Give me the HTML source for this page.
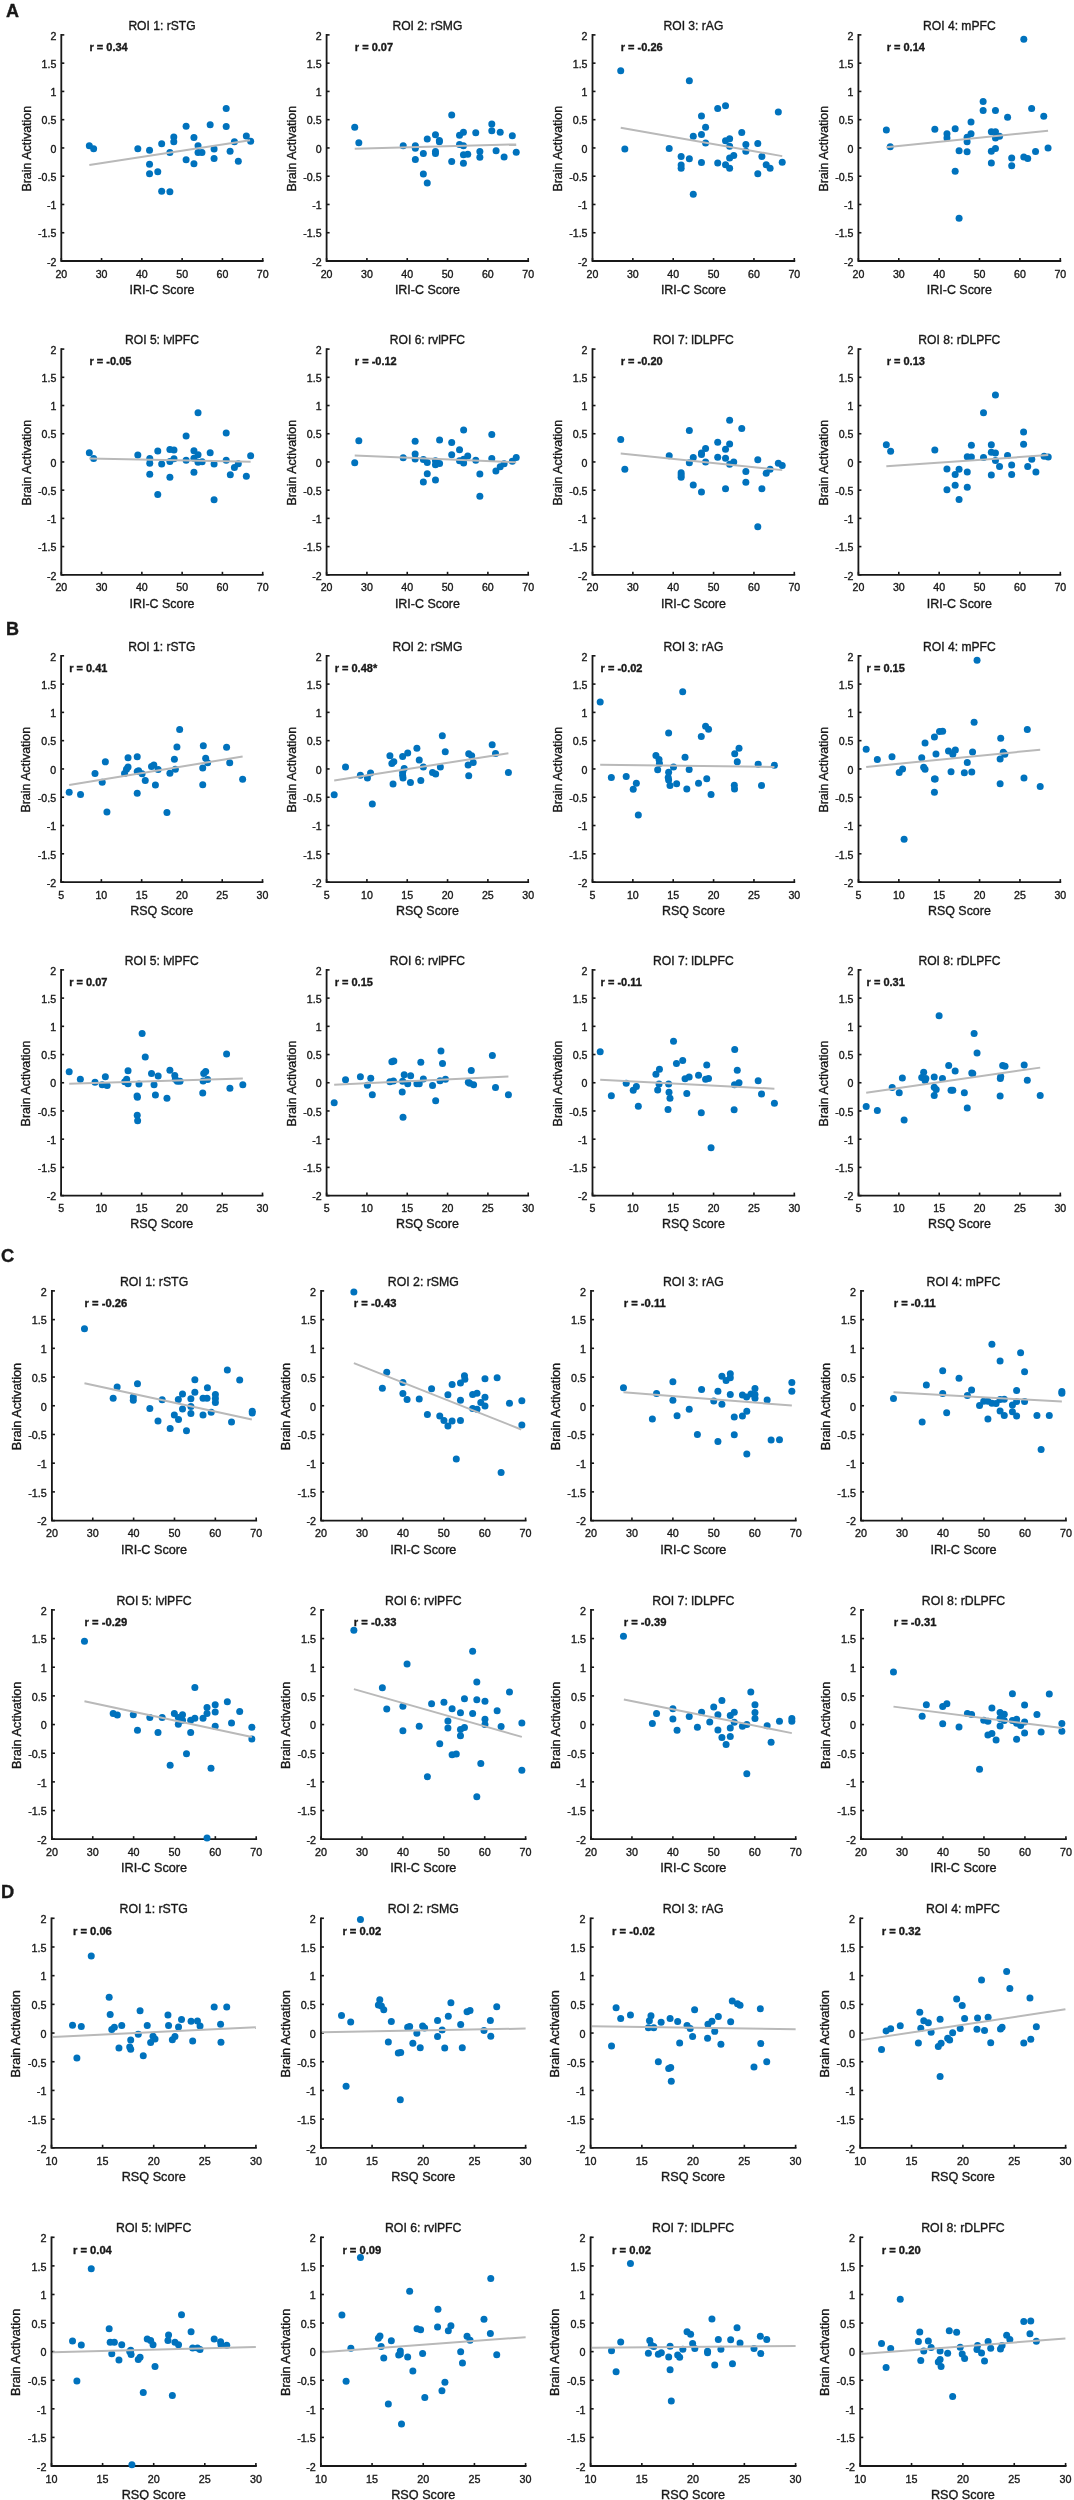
<!DOCTYPE html>
<html><head><meta charset="utf-8"><style>
html,body{margin:0;padding:0;background:#fff;}
svg{display:block;will-change:transform;}
text{font-family:"Liberation Sans",sans-serif;fill:#181818;stroke:#181818;stroke-width:0.35px;}
circle{fill:#0072bd;}
</style></head><body>
<svg width="1074" height="2500" viewBox="0 0 1074 2500">
<rect width="1074" height="2500" fill="#fff"/>
<text x="5.9" y="17.0" font-size="18.00" font-weight="bold" fill="#000">A</text>
<g><text x="162.00" y="29.80" font-size="12.10" text-anchor="middle">ROI 1: rSTG</text><text x="56.30" y="39.60" font-size="10.60" text-anchor="end">2</text><line x1="61.30" y1="34.90" x2="64.30" y2="34.90" stroke="#181818" stroke-width="1.6"/><text x="56.30" y="67.86" font-size="10.60" text-anchor="end">1.5</text><line x1="61.30" y1="63.16" x2="64.30" y2="63.16" stroke="#181818" stroke-width="1.6"/><text x="56.30" y="96.12" font-size="10.60" text-anchor="end">1</text><line x1="61.30" y1="91.42" x2="64.30" y2="91.42" stroke="#181818" stroke-width="1.6"/><text x="56.30" y="124.39" font-size="10.60" text-anchor="end">0.5</text><line x1="61.30" y1="119.69" x2="64.30" y2="119.69" stroke="#181818" stroke-width="1.6"/><text x="56.30" y="152.65" font-size="10.60" text-anchor="end">0</text><line x1="61.30" y1="147.95" x2="64.30" y2="147.95" stroke="#181818" stroke-width="1.6"/><text x="56.30" y="180.91" font-size="10.60" text-anchor="end">-0.5</text><line x1="61.30" y1="176.21" x2="64.30" y2="176.21" stroke="#181818" stroke-width="1.6"/><text x="56.30" y="209.17" font-size="10.60" text-anchor="end">-1</text><line x1="61.30" y1="204.47" x2="64.30" y2="204.47" stroke="#181818" stroke-width="1.6"/><text x="56.30" y="237.44" font-size="10.60" text-anchor="end">-1.5</text><line x1="61.30" y1="232.74" x2="64.30" y2="232.74" stroke="#181818" stroke-width="1.6"/><text x="56.30" y="265.70" font-size="10.60" text-anchor="end">-2</text><line x1="61.30" y1="261.00" x2="64.30" y2="261.00" stroke="#181818" stroke-width="1.6"/><text x="61.30" y="277.50" font-size="10.60" text-anchor="middle">20</text><line x1="61.30" y1="261.00" x2="61.30" y2="258.00" stroke="#181818" stroke-width="1.6"/><text x="101.58" y="277.50" font-size="10.60" text-anchor="middle">30</text><line x1="101.58" y1="261.00" x2="101.58" y2="258.00" stroke="#181818" stroke-width="1.6"/><text x="141.86" y="277.50" font-size="10.60" text-anchor="middle">40</text><line x1="141.86" y1="261.00" x2="141.86" y2="258.00" stroke="#181818" stroke-width="1.6"/><text x="182.14" y="277.50" font-size="10.60" text-anchor="middle">50</text><line x1="182.14" y1="261.00" x2="182.14" y2="258.00" stroke="#181818" stroke-width="1.6"/><text x="222.42" y="277.50" font-size="10.60" text-anchor="middle">60</text><line x1="222.42" y1="261.00" x2="222.42" y2="258.00" stroke="#181818" stroke-width="1.6"/><text x="262.70" y="277.50" font-size="10.60" text-anchor="middle">70</text><line x1="262.70" y1="261.00" x2="262.70" y2="258.00" stroke="#181818" stroke-width="1.6"/><path d="M61.30 34.90V261.00H262.70" fill="none" stroke="#181818" stroke-width="1.80" stroke-linejoin="miter" stroke-linecap="square"/><text x="162.00" y="293.70" font-size="12.45" text-anchor="middle">IRI-C Score</text><text transform="translate(30.60 148.75) rotate(-90)" x="0" y="0" font-size="12.45" text-anchor="middle">Brain Activation</text><text x="89.50" y="51.00" font-size="11.00" font-weight="bold">r = 0.34</text><circle cx="89.33" cy="145.73" r="3.5"/><circle cx="93.63" cy="148.66" r="3.5"/><circle cx="137.82" cy="148.66" r="3.5"/><circle cx="149.55" cy="150.22" r="3.5"/><circle cx="149.55" cy="164.30" r="3.5"/><circle cx="149.55" cy="173.69" r="3.5"/><circle cx="157.77" cy="171.73" r="3.5"/><circle cx="161.68" cy="143.77" r="3.5"/><circle cx="161.68" cy="191.28" r="3.5"/><circle cx="169.89" cy="152.57" r="3.5"/><circle cx="169.89" cy="191.68" r="3.5"/><circle cx="173.80" cy="136.93" r="3.5"/><circle cx="173.80" cy="141.82" r="3.5"/><circle cx="186.12" cy="126.17" r="3.5"/><circle cx="186.12" cy="159.80" r="3.5"/><circle cx="193.94" cy="137.51" r="3.5"/><circle cx="193.94" cy="163.72" r="3.5"/><circle cx="198.04" cy="145.73" r="3.5"/><circle cx="198.04" cy="152.57" r="3.5"/><circle cx="201.96" cy="152.57" r="3.5"/><circle cx="210.17" cy="124.80" r="3.5"/><circle cx="214.08" cy="149.05" r="3.5"/><circle cx="214.08" cy="158.44" r="3.5"/><circle cx="226.20" cy="108.58" r="3.5"/><circle cx="226.20" cy="126.56" r="3.5"/><circle cx="230.11" cy="151.20" r="3.5"/><circle cx="234.41" cy="141.82" r="3.5"/><circle cx="238.32" cy="161.17" r="3.5"/><circle cx="246.34" cy="135.95" r="3.5"/><circle cx="250.64" cy="141.23" r="3.5"/><line x1="89.33" y1="164.89" x2="250.06" y2="140.25" stroke="#b9b9b9" stroke-width="2"/></g>
<g><text x="427.40" y="29.80" font-size="12.10" text-anchor="middle">ROI 2: rSMG</text><text x="321.60" y="39.60" font-size="10.60" text-anchor="end">2</text><line x1="326.60" y1="34.90" x2="329.60" y2="34.90" stroke="#181818" stroke-width="1.6"/><text x="321.60" y="67.86" font-size="10.60" text-anchor="end">1.5</text><line x1="326.60" y1="63.16" x2="329.60" y2="63.16" stroke="#181818" stroke-width="1.6"/><text x="321.60" y="96.12" font-size="10.60" text-anchor="end">1</text><line x1="326.60" y1="91.42" x2="329.60" y2="91.42" stroke="#181818" stroke-width="1.6"/><text x="321.60" y="124.39" font-size="10.60" text-anchor="end">0.5</text><line x1="326.60" y1="119.69" x2="329.60" y2="119.69" stroke="#181818" stroke-width="1.6"/><text x="321.60" y="152.65" font-size="10.60" text-anchor="end">0</text><line x1="326.60" y1="147.95" x2="329.60" y2="147.95" stroke="#181818" stroke-width="1.6"/><text x="321.60" y="180.91" font-size="10.60" text-anchor="end">-0.5</text><line x1="326.60" y1="176.21" x2="329.60" y2="176.21" stroke="#181818" stroke-width="1.6"/><text x="321.60" y="209.17" font-size="10.60" text-anchor="end">-1</text><line x1="326.60" y1="204.47" x2="329.60" y2="204.47" stroke="#181818" stroke-width="1.6"/><text x="321.60" y="237.44" font-size="10.60" text-anchor="end">-1.5</text><line x1="326.60" y1="232.74" x2="329.60" y2="232.74" stroke="#181818" stroke-width="1.6"/><text x="321.60" y="265.70" font-size="10.60" text-anchor="end">-2</text><line x1="326.60" y1="261.00" x2="329.60" y2="261.00" stroke="#181818" stroke-width="1.6"/><text x="326.60" y="277.50" font-size="10.60" text-anchor="middle">20</text><line x1="326.60" y1="261.00" x2="326.60" y2="258.00" stroke="#181818" stroke-width="1.6"/><text x="366.92" y="277.50" font-size="10.60" text-anchor="middle">30</text><line x1="366.92" y1="261.00" x2="366.92" y2="258.00" stroke="#181818" stroke-width="1.6"/><text x="407.24" y="277.50" font-size="10.60" text-anchor="middle">40</text><line x1="407.24" y1="261.00" x2="407.24" y2="258.00" stroke="#181818" stroke-width="1.6"/><text x="447.56" y="277.50" font-size="10.60" text-anchor="middle">50</text><line x1="447.56" y1="261.00" x2="447.56" y2="258.00" stroke="#181818" stroke-width="1.6"/><text x="487.88" y="277.50" font-size="10.60" text-anchor="middle">60</text><line x1="487.88" y1="261.00" x2="487.88" y2="258.00" stroke="#181818" stroke-width="1.6"/><text x="528.20" y="277.50" font-size="10.60" text-anchor="middle">70</text><line x1="528.20" y1="261.00" x2="528.20" y2="258.00" stroke="#181818" stroke-width="1.6"/><path d="M326.60 34.90V261.00H528.20" fill="none" stroke="#181818" stroke-width="1.80" stroke-linejoin="miter" stroke-linecap="square"/><text x="427.40" y="293.70" font-size="12.45" text-anchor="middle">IRI-C Score</text><text transform="translate(295.90 148.75) rotate(-90)" x="0" y="0" font-size="12.45" text-anchor="middle">Brain Activation</text><text x="354.82" y="51.00" font-size="11.00" font-weight="bold">r = 0.07</text><circle cx="354.72" cy="127.18" r="3.5"/><circle cx="358.83" cy="142.82" r="3.5"/><circle cx="403.21" cy="145.75" r="3.5"/><circle cx="415.34" cy="145.75" r="3.5"/><circle cx="415.34" cy="148.30" r="3.5"/><circle cx="415.34" cy="159.44" r="3.5"/><circle cx="423.35" cy="153.38" r="3.5"/><circle cx="423.35" cy="173.91" r="3.5"/><circle cx="427.26" cy="139.11" r="3.5"/><circle cx="427.26" cy="183.10" r="3.5"/><circle cx="435.47" cy="134.80" r="3.5"/><circle cx="435.47" cy="151.62" r="3.5"/><circle cx="435.47" cy="153.58" r="3.5"/><circle cx="439.39" cy="140.47" r="3.5"/><circle cx="439.39" cy="141.84" r="3.5"/><circle cx="451.70" cy="115.06" r="3.5"/><circle cx="451.70" cy="161.59" r="3.5"/><circle cx="459.53" cy="135.20" r="3.5"/><circle cx="459.53" cy="144.39" r="3.5"/><circle cx="463.44" cy="132.26" r="3.5"/><circle cx="463.44" cy="145.75" r="3.5"/><circle cx="463.44" cy="154.75" r="3.5"/><circle cx="463.44" cy="163.16" r="3.5"/><circle cx="467.74" cy="154.36" r="3.5"/><circle cx="475.75" cy="132.65" r="3.5"/><circle cx="479.86" cy="151.62" r="3.5"/><circle cx="479.86" cy="157.29" r="3.5"/><circle cx="491.79" cy="124.05" r="3.5"/><circle cx="491.79" cy="130.70" r="3.5"/><circle cx="496.09" cy="150.84" r="3.5"/><circle cx="500.20" cy="132.26" r="3.5"/><circle cx="504.11" cy="157.09" r="3.5"/><circle cx="512.32" cy="135.78" r="3.5"/><circle cx="516.23" cy="152.21" r="3.5"/><line x1="354.72" y1="148.69" x2="516.23" y2="144.39" stroke="#b9b9b9" stroke-width="2"/></g>
<g><text x="693.40" y="29.80" font-size="12.10" text-anchor="middle">ROI 3: rAG</text><text x="587.50" y="39.60" font-size="10.60" text-anchor="end">2</text><line x1="592.50" y1="34.90" x2="595.50" y2="34.90" stroke="#181818" stroke-width="1.6"/><text x="587.50" y="67.86" font-size="10.60" text-anchor="end">1.5</text><line x1="592.50" y1="63.16" x2="595.50" y2="63.16" stroke="#181818" stroke-width="1.6"/><text x="587.50" y="96.12" font-size="10.60" text-anchor="end">1</text><line x1="592.50" y1="91.42" x2="595.50" y2="91.42" stroke="#181818" stroke-width="1.6"/><text x="587.50" y="124.39" font-size="10.60" text-anchor="end">0.5</text><line x1="592.50" y1="119.69" x2="595.50" y2="119.69" stroke="#181818" stroke-width="1.6"/><text x="587.50" y="152.65" font-size="10.60" text-anchor="end">0</text><line x1="592.50" y1="147.95" x2="595.50" y2="147.95" stroke="#181818" stroke-width="1.6"/><text x="587.50" y="180.91" font-size="10.60" text-anchor="end">-0.5</text><line x1="592.50" y1="176.21" x2="595.50" y2="176.21" stroke="#181818" stroke-width="1.6"/><text x="587.50" y="209.17" font-size="10.60" text-anchor="end">-1</text><line x1="592.50" y1="204.47" x2="595.50" y2="204.47" stroke="#181818" stroke-width="1.6"/><text x="587.50" y="237.44" font-size="10.60" text-anchor="end">-1.5</text><line x1="592.50" y1="232.74" x2="595.50" y2="232.74" stroke="#181818" stroke-width="1.6"/><text x="587.50" y="265.70" font-size="10.60" text-anchor="end">-2</text><line x1="592.50" y1="261.00" x2="595.50" y2="261.00" stroke="#181818" stroke-width="1.6"/><text x="592.50" y="277.50" font-size="10.60" text-anchor="middle">20</text><line x1="592.50" y1="261.00" x2="592.50" y2="258.00" stroke="#181818" stroke-width="1.6"/><text x="632.86" y="277.50" font-size="10.60" text-anchor="middle">30</text><line x1="632.86" y1="261.00" x2="632.86" y2="258.00" stroke="#181818" stroke-width="1.6"/><text x="673.22" y="277.50" font-size="10.60" text-anchor="middle">40</text><line x1="673.22" y1="261.00" x2="673.22" y2="258.00" stroke="#181818" stroke-width="1.6"/><text x="713.58" y="277.50" font-size="10.60" text-anchor="middle">50</text><line x1="713.58" y1="261.00" x2="713.58" y2="258.00" stroke="#181818" stroke-width="1.6"/><text x="753.94" y="277.50" font-size="10.60" text-anchor="middle">60</text><line x1="753.94" y1="261.00" x2="753.94" y2="258.00" stroke="#181818" stroke-width="1.6"/><text x="794.30" y="277.50" font-size="10.60" text-anchor="middle">70</text><line x1="794.30" y1="261.00" x2="794.30" y2="258.00" stroke="#181818" stroke-width="1.6"/><path d="M592.50 34.90V261.00H794.30" fill="none" stroke="#181818" stroke-width="1.80" stroke-linejoin="miter" stroke-linecap="square"/><text x="693.40" y="293.70" font-size="12.45" text-anchor="middle">IRI-C Score</text><text transform="translate(561.80 148.75) rotate(-90)" x="0" y="0" font-size="12.45" text-anchor="middle">Brain Activation</text><text x="620.75" y="51.00" font-size="11.00" font-weight="bold">r = -0.26</text><circle cx="620.72" cy="70.67" r="3.5"/><circle cx="624.83" cy="149.08" r="3.5"/><circle cx="669.21" cy="148.49" r="3.5"/><circle cx="681.14" cy="156.51" r="3.5"/><circle cx="681.14" cy="164.92" r="3.5"/><circle cx="681.14" cy="168.24" r="3.5"/><circle cx="689.35" cy="80.84" r="3.5"/><circle cx="689.35" cy="158.85" r="3.5"/><circle cx="693.26" cy="136.37" r="3.5"/><circle cx="693.26" cy="194.25" r="3.5"/><circle cx="701.47" cy="116.03" r="3.5"/><circle cx="701.47" cy="134.61" r="3.5"/><circle cx="701.47" cy="162.57" r="3.5"/><circle cx="705.58" cy="127.37" r="3.5"/><circle cx="705.58" cy="143.02" r="3.5"/><circle cx="717.70" cy="108.60" r="3.5"/><circle cx="717.70" cy="162.96" r="3.5"/><circle cx="725.53" cy="105.67" r="3.5"/><circle cx="725.53" cy="140.87" r="3.5"/><circle cx="725.53" cy="164.72" r="3.5"/><circle cx="729.63" cy="138.72" r="3.5"/><circle cx="729.63" cy="146.34" r="3.5"/><circle cx="729.63" cy="158.07" r="3.5"/><circle cx="729.63" cy="168.24" r="3.5"/><circle cx="733.74" cy="155.53" r="3.5"/><circle cx="741.75" cy="132.46" r="3.5"/><circle cx="745.86" cy="144.39" r="3.5"/><circle cx="745.86" cy="151.23" r="3.5"/><circle cx="757.79" cy="143.41" r="3.5"/><circle cx="757.79" cy="173.72" r="3.5"/><circle cx="761.89" cy="156.51" r="3.5"/><circle cx="766.20" cy="164.72" r="3.5"/><circle cx="770.11" cy="168.24" r="3.5"/><circle cx="778.32" cy="112.12" r="3.5"/><circle cx="782.23" cy="162.18" r="3.5"/><line x1="620.72" y1="127.77" x2="782.23" y2="156.12" stroke="#b9b9b9" stroke-width="2"/></g>
<g><text x="959.35" y="29.80" font-size="12.10" text-anchor="middle">ROI 4: mPFC</text><text x="853.40" y="39.60" font-size="10.60" text-anchor="end">2</text><line x1="858.40" y1="34.90" x2="861.40" y2="34.90" stroke="#181818" stroke-width="1.6"/><text x="853.40" y="67.86" font-size="10.60" text-anchor="end">1.5</text><line x1="858.40" y1="63.16" x2="861.40" y2="63.16" stroke="#181818" stroke-width="1.6"/><text x="853.40" y="96.12" font-size="10.60" text-anchor="end">1</text><line x1="858.40" y1="91.42" x2="861.40" y2="91.42" stroke="#181818" stroke-width="1.6"/><text x="853.40" y="124.39" font-size="10.60" text-anchor="end">0.5</text><line x1="858.40" y1="119.69" x2="861.40" y2="119.69" stroke="#181818" stroke-width="1.6"/><text x="853.40" y="152.65" font-size="10.60" text-anchor="end">0</text><line x1="858.40" y1="147.95" x2="861.40" y2="147.95" stroke="#181818" stroke-width="1.6"/><text x="853.40" y="180.91" font-size="10.60" text-anchor="end">-0.5</text><line x1="858.40" y1="176.21" x2="861.40" y2="176.21" stroke="#181818" stroke-width="1.6"/><text x="853.40" y="209.17" font-size="10.60" text-anchor="end">-1</text><line x1="858.40" y1="204.47" x2="861.40" y2="204.47" stroke="#181818" stroke-width="1.6"/><text x="853.40" y="237.44" font-size="10.60" text-anchor="end">-1.5</text><line x1="858.40" y1="232.74" x2="861.40" y2="232.74" stroke="#181818" stroke-width="1.6"/><text x="853.40" y="265.70" font-size="10.60" text-anchor="end">-2</text><line x1="858.40" y1="261.00" x2="861.40" y2="261.00" stroke="#181818" stroke-width="1.6"/><text x="858.40" y="277.50" font-size="10.60" text-anchor="middle">20</text><line x1="858.40" y1="261.00" x2="858.40" y2="258.00" stroke="#181818" stroke-width="1.6"/><text x="898.78" y="277.50" font-size="10.60" text-anchor="middle">30</text><line x1="898.78" y1="261.00" x2="898.78" y2="258.00" stroke="#181818" stroke-width="1.6"/><text x="939.16" y="277.50" font-size="10.60" text-anchor="middle">40</text><line x1="939.16" y1="261.00" x2="939.16" y2="258.00" stroke="#181818" stroke-width="1.6"/><text x="979.54" y="277.50" font-size="10.60" text-anchor="middle">50</text><line x1="979.54" y1="261.00" x2="979.54" y2="258.00" stroke="#181818" stroke-width="1.6"/><text x="1019.92" y="277.50" font-size="10.60" text-anchor="middle">60</text><line x1="1019.92" y1="261.00" x2="1019.92" y2="258.00" stroke="#181818" stroke-width="1.6"/><text x="1060.30" y="277.50" font-size="10.60" text-anchor="middle">70</text><line x1="1060.30" y1="261.00" x2="1060.30" y2="258.00" stroke="#181818" stroke-width="1.6"/><path d="M858.40 34.90V261.00H1060.30" fill="none" stroke="#181818" stroke-width="1.80" stroke-linejoin="miter" stroke-linecap="square"/><text x="959.35" y="293.70" font-size="12.45" text-anchor="middle">IRI-C Score</text><text transform="translate(827.70 148.75) rotate(-90)" x="0" y="0" font-size="12.45" text-anchor="middle">Brain Activation</text><text x="886.67" y="51.00" font-size="11.00" font-weight="bold">r = 0.14</text><circle cx="886.35" cy="130.11" r="3.5"/><circle cx="890.26" cy="146.73" r="3.5"/><circle cx="934.84" cy="129.33" r="3.5"/><circle cx="946.97" cy="133.63" r="3.5"/><circle cx="946.97" cy="137.93" r="3.5"/><circle cx="955.18" cy="128.74" r="3.5"/><circle cx="955.18" cy="171.17" r="3.5"/><circle cx="959.09" cy="150.84" r="3.5"/><circle cx="959.09" cy="218.30" r="3.5"/><circle cx="967.11" cy="137.15" r="3.5"/><circle cx="967.11" cy="141.84" r="3.5"/><circle cx="967.11" cy="151.82" r="3.5"/><circle cx="971.02" cy="121.90" r="3.5"/><circle cx="971.02" cy="133.63" r="3.5"/><circle cx="983.14" cy="101.56" r="3.5"/><circle cx="983.14" cy="110.56" r="3.5"/><circle cx="991.35" cy="131.68" r="3.5"/><circle cx="991.35" cy="151.23" r="3.5"/><circle cx="991.35" cy="162.96" r="3.5"/><circle cx="995.46" cy="110.56" r="3.5"/><circle cx="995.46" cy="131.68" r="3.5"/><circle cx="995.46" cy="137.93" r="3.5"/><circle cx="995.46" cy="148.49" r="3.5"/><circle cx="999.56" cy="136.17" r="3.5"/><circle cx="1007.58" cy="117.21" r="3.5"/><circle cx="1011.69" cy="158.07" r="3.5"/><circle cx="1011.69" cy="165.70" r="3.5"/><circle cx="1023.81" cy="39.19" r="3.5"/><circle cx="1023.81" cy="157.09" r="3.5"/><circle cx="1027.72" cy="158.46" r="3.5"/><circle cx="1031.63" cy="108.60" r="3.5"/><circle cx="1035.54" cy="151.62" r="3.5"/><circle cx="1043.75" cy="116.23" r="3.5"/><circle cx="1048.06" cy="147.91" r="3.5"/><line x1="886.35" y1="147.32" x2="1048.06" y2="130.70" stroke="#b9b9b9" stroke-width="2"/></g>
<g><text x="162.00" y="344.00" font-size="12.10" text-anchor="middle">ROI 5: lvlPFC</text><text x="56.30" y="353.80" font-size="10.60" text-anchor="end">2</text><line x1="61.30" y1="349.10" x2="64.30" y2="349.10" stroke="#181818" stroke-width="1.6"/><text x="56.30" y="382.01" font-size="10.60" text-anchor="end">1.5</text><line x1="61.30" y1="377.31" x2="64.30" y2="377.31" stroke="#181818" stroke-width="1.6"/><text x="56.30" y="410.23" font-size="10.60" text-anchor="end">1</text><line x1="61.30" y1="405.53" x2="64.30" y2="405.53" stroke="#181818" stroke-width="1.6"/><text x="56.30" y="438.44" font-size="10.60" text-anchor="end">0.5</text><line x1="61.30" y1="433.74" x2="64.30" y2="433.74" stroke="#181818" stroke-width="1.6"/><text x="56.30" y="466.65" font-size="10.60" text-anchor="end">0</text><line x1="61.30" y1="461.95" x2="64.30" y2="461.95" stroke="#181818" stroke-width="1.6"/><text x="56.30" y="494.86" font-size="10.60" text-anchor="end">-0.5</text><line x1="61.30" y1="490.16" x2="64.30" y2="490.16" stroke="#181818" stroke-width="1.6"/><text x="56.30" y="523.08" font-size="10.60" text-anchor="end">-1</text><line x1="61.30" y1="518.38" x2="64.30" y2="518.38" stroke="#181818" stroke-width="1.6"/><text x="56.30" y="551.29" font-size="10.60" text-anchor="end">-1.5</text><line x1="61.30" y1="546.59" x2="64.30" y2="546.59" stroke="#181818" stroke-width="1.6"/><text x="56.30" y="579.50" font-size="10.60" text-anchor="end">-2</text><line x1="61.30" y1="574.80" x2="64.30" y2="574.80" stroke="#181818" stroke-width="1.6"/><text x="61.30" y="591.30" font-size="10.60" text-anchor="middle">20</text><line x1="61.30" y1="574.80" x2="61.30" y2="571.80" stroke="#181818" stroke-width="1.6"/><text x="101.58" y="591.30" font-size="10.60" text-anchor="middle">30</text><line x1="101.58" y1="574.80" x2="101.58" y2="571.80" stroke="#181818" stroke-width="1.6"/><text x="141.86" y="591.30" font-size="10.60" text-anchor="middle">40</text><line x1="141.86" y1="574.80" x2="141.86" y2="571.80" stroke="#181818" stroke-width="1.6"/><text x="182.14" y="591.30" font-size="10.60" text-anchor="middle">50</text><line x1="182.14" y1="574.80" x2="182.14" y2="571.80" stroke="#181818" stroke-width="1.6"/><text x="222.42" y="591.30" font-size="10.60" text-anchor="middle">60</text><line x1="222.42" y1="574.80" x2="222.42" y2="571.80" stroke="#181818" stroke-width="1.6"/><text x="262.70" y="591.30" font-size="10.60" text-anchor="middle">70</text><line x1="262.70" y1="574.80" x2="262.70" y2="571.80" stroke="#181818" stroke-width="1.6"/><path d="M61.30 349.10V574.80H262.70" fill="none" stroke="#181818" stroke-width="1.80" stroke-linejoin="miter" stroke-linecap="square"/><text x="162.00" y="607.50" font-size="12.45" text-anchor="middle">IRI-C Score</text><text transform="translate(30.60 462.75) rotate(-90)" x="0" y="0" font-size="12.45" text-anchor="middle">Brain Activation</text><text x="89.50" y="365.20" font-size="11.00" font-weight="bold">r = -0.05</text><circle cx="89.33" cy="452.72" r="3.5"/><circle cx="93.63" cy="458.39" r="3.5"/><circle cx="137.82" cy="455.06" r="3.5"/><circle cx="149.75" cy="458.39" r="3.5"/><circle cx="149.75" cy="463.27" r="3.5"/><circle cx="149.75" cy="474.22" r="3.5"/><circle cx="157.77" cy="450.96" r="3.5"/><circle cx="157.77" cy="494.56" r="3.5"/><circle cx="161.68" cy="464.06" r="3.5"/><circle cx="169.89" cy="449.59" r="3.5"/><circle cx="169.89" cy="461.51" r="3.5"/><circle cx="169.89" cy="477.35" r="3.5"/><circle cx="173.99" cy="449.98" r="3.5"/><circle cx="173.99" cy="458.78" r="3.5"/><circle cx="186.12" cy="436.09" r="3.5"/><circle cx="186.12" cy="460.34" r="3.5"/><circle cx="193.94" cy="450.76" r="3.5"/><circle cx="193.94" cy="458.19" r="3.5"/><circle cx="193.94" cy="472.27" r="3.5"/><circle cx="198.04" cy="412.63" r="3.5"/><circle cx="198.04" cy="454.87" r="3.5"/><circle cx="198.04" cy="462.30" r="3.5"/><circle cx="202.15" cy="461.71" r="3.5"/><circle cx="210.17" cy="452.72" r="3.5"/><circle cx="214.08" cy="464.06" r="3.5"/><circle cx="214.08" cy="499.84" r="3.5"/><circle cx="226.20" cy="432.97" r="3.5"/><circle cx="226.20" cy="460.34" r="3.5"/><circle cx="230.31" cy="474.81" r="3.5"/><circle cx="234.41" cy="467.38" r="3.5"/><circle cx="238.32" cy="463.66" r="3.5"/><circle cx="246.34" cy="476.37" r="3.5"/><circle cx="250.64" cy="455.84" r="3.5"/><line x1="89.33" y1="458.39" x2="250.64" y2="461.71" stroke="#b9b9b9" stroke-width="2"/></g>
<g><text x="427.40" y="344.00" font-size="12.10" text-anchor="middle">ROI 6: rvlPFC</text><text x="321.60" y="353.80" font-size="10.60" text-anchor="end">2</text><line x1="326.60" y1="349.10" x2="329.60" y2="349.10" stroke="#181818" stroke-width="1.6"/><text x="321.60" y="382.01" font-size="10.60" text-anchor="end">1.5</text><line x1="326.60" y1="377.31" x2="329.60" y2="377.31" stroke="#181818" stroke-width="1.6"/><text x="321.60" y="410.23" font-size="10.60" text-anchor="end">1</text><line x1="326.60" y1="405.53" x2="329.60" y2="405.53" stroke="#181818" stroke-width="1.6"/><text x="321.60" y="438.44" font-size="10.60" text-anchor="end">0.5</text><line x1="326.60" y1="433.74" x2="329.60" y2="433.74" stroke="#181818" stroke-width="1.6"/><text x="321.60" y="466.65" font-size="10.60" text-anchor="end">0</text><line x1="326.60" y1="461.95" x2="329.60" y2="461.95" stroke="#181818" stroke-width="1.6"/><text x="321.60" y="494.86" font-size="10.60" text-anchor="end">-0.5</text><line x1="326.60" y1="490.16" x2="329.60" y2="490.16" stroke="#181818" stroke-width="1.6"/><text x="321.60" y="523.08" font-size="10.60" text-anchor="end">-1</text><line x1="326.60" y1="518.38" x2="329.60" y2="518.38" stroke="#181818" stroke-width="1.6"/><text x="321.60" y="551.29" font-size="10.60" text-anchor="end">-1.5</text><line x1="326.60" y1="546.59" x2="329.60" y2="546.59" stroke="#181818" stroke-width="1.6"/><text x="321.60" y="579.50" font-size="10.60" text-anchor="end">-2</text><line x1="326.60" y1="574.80" x2="329.60" y2="574.80" stroke="#181818" stroke-width="1.6"/><text x="326.60" y="591.30" font-size="10.60" text-anchor="middle">20</text><line x1="326.60" y1="574.80" x2="326.60" y2="571.80" stroke="#181818" stroke-width="1.6"/><text x="366.92" y="591.30" font-size="10.60" text-anchor="middle">30</text><line x1="366.92" y1="574.80" x2="366.92" y2="571.80" stroke="#181818" stroke-width="1.6"/><text x="407.24" y="591.30" font-size="10.60" text-anchor="middle">40</text><line x1="407.24" y1="574.80" x2="407.24" y2="571.80" stroke="#181818" stroke-width="1.6"/><text x="447.56" y="591.30" font-size="10.60" text-anchor="middle">50</text><line x1="447.56" y1="574.80" x2="447.56" y2="571.80" stroke="#181818" stroke-width="1.6"/><text x="487.88" y="591.30" font-size="10.60" text-anchor="middle">60</text><line x1="487.88" y1="574.80" x2="487.88" y2="571.80" stroke="#181818" stroke-width="1.6"/><text x="528.20" y="591.30" font-size="10.60" text-anchor="middle">70</text><line x1="528.20" y1="574.80" x2="528.20" y2="571.80" stroke="#181818" stroke-width="1.6"/><path d="M326.60 349.10V574.80H528.20" fill="none" stroke="#181818" stroke-width="1.80" stroke-linejoin="miter" stroke-linecap="square"/><text x="427.40" y="607.50" font-size="12.45" text-anchor="middle">IRI-C Score</text><text transform="translate(295.90 462.75) rotate(-90)" x="0" y="0" font-size="12.45" text-anchor="middle">Brain Activation</text><text x="354.82" y="365.20" font-size="11.00" font-weight="bold">r = -0.12</text><circle cx="354.72" cy="462.69" r="3.5"/><circle cx="358.83" cy="440.79" r="3.5"/><circle cx="403.21" cy="457.80" r="3.5"/><circle cx="415.14" cy="441.18" r="3.5"/><circle cx="415.14" cy="453.89" r="3.5"/><circle cx="415.14" cy="458.97" r="3.5"/><circle cx="423.35" cy="459.56" r="3.5"/><circle cx="423.35" cy="482.04" r="3.5"/><circle cx="427.26" cy="462.49" r="3.5"/><circle cx="427.26" cy="473.83" r="3.5"/><circle cx="435.47" cy="460.73" r="3.5"/><circle cx="435.47" cy="464.64" r="3.5"/><circle cx="435.47" cy="479.89" r="3.5"/><circle cx="439.58" cy="440.01" r="3.5"/><circle cx="439.58" cy="463.47" r="3.5"/><circle cx="451.70" cy="442.55" r="3.5"/><circle cx="451.70" cy="454.87" r="3.5"/><circle cx="459.53" cy="449.78" r="3.5"/><circle cx="459.53" cy="460.73" r="3.5"/><circle cx="463.63" cy="430.03" r="3.5"/><circle cx="463.63" cy="459.36" r="3.5"/><circle cx="463.63" cy="462.88" r="3.5"/><circle cx="467.74" cy="456.04" r="3.5"/><circle cx="475.75" cy="460.15" r="3.5"/><circle cx="479.86" cy="474.03" r="3.5"/><circle cx="479.86" cy="496.32" r="3.5"/><circle cx="491.79" cy="434.53" r="3.5"/><circle cx="491.79" cy="458.39" r="3.5"/><circle cx="495.89" cy="471.09" r="3.5"/><circle cx="500.20" cy="466.79" r="3.5"/><circle cx="504.11" cy="463.86" r="3.5"/><circle cx="512.32" cy="461.32" r="3.5"/><circle cx="516.23" cy="457.41" r="3.5"/><line x1="354.72" y1="455.45" x2="516.23" y2="462.30" stroke="#b9b9b9" stroke-width="2"/></g>
<g><text x="693.40" y="344.00" font-size="12.10" text-anchor="middle">ROI 7: lDLPFC</text><text x="587.50" y="353.80" font-size="10.60" text-anchor="end">2</text><line x1="592.50" y1="349.10" x2="595.50" y2="349.10" stroke="#181818" stroke-width="1.6"/><text x="587.50" y="382.01" font-size="10.60" text-anchor="end">1.5</text><line x1="592.50" y1="377.31" x2="595.50" y2="377.31" stroke="#181818" stroke-width="1.6"/><text x="587.50" y="410.23" font-size="10.60" text-anchor="end">1</text><line x1="592.50" y1="405.53" x2="595.50" y2="405.53" stroke="#181818" stroke-width="1.6"/><text x="587.50" y="438.44" font-size="10.60" text-anchor="end">0.5</text><line x1="592.50" y1="433.74" x2="595.50" y2="433.74" stroke="#181818" stroke-width="1.6"/><text x="587.50" y="466.65" font-size="10.60" text-anchor="end">0</text><line x1="592.50" y1="461.95" x2="595.50" y2="461.95" stroke="#181818" stroke-width="1.6"/><text x="587.50" y="494.86" font-size="10.60" text-anchor="end">-0.5</text><line x1="592.50" y1="490.16" x2="595.50" y2="490.16" stroke="#181818" stroke-width="1.6"/><text x="587.50" y="523.08" font-size="10.60" text-anchor="end">-1</text><line x1="592.50" y1="518.38" x2="595.50" y2="518.38" stroke="#181818" stroke-width="1.6"/><text x="587.50" y="551.29" font-size="10.60" text-anchor="end">-1.5</text><line x1="592.50" y1="546.59" x2="595.50" y2="546.59" stroke="#181818" stroke-width="1.6"/><text x="587.50" y="579.50" font-size="10.60" text-anchor="end">-2</text><line x1="592.50" y1="574.80" x2="595.50" y2="574.80" stroke="#181818" stroke-width="1.6"/><text x="592.50" y="591.30" font-size="10.60" text-anchor="middle">20</text><line x1="592.50" y1="574.80" x2="592.50" y2="571.80" stroke="#181818" stroke-width="1.6"/><text x="632.86" y="591.30" font-size="10.60" text-anchor="middle">30</text><line x1="632.86" y1="574.80" x2="632.86" y2="571.80" stroke="#181818" stroke-width="1.6"/><text x="673.22" y="591.30" font-size="10.60" text-anchor="middle">40</text><line x1="673.22" y1="574.80" x2="673.22" y2="571.80" stroke="#181818" stroke-width="1.6"/><text x="713.58" y="591.30" font-size="10.60" text-anchor="middle">50</text><line x1="713.58" y1="574.80" x2="713.58" y2="571.80" stroke="#181818" stroke-width="1.6"/><text x="753.94" y="591.30" font-size="10.60" text-anchor="middle">60</text><line x1="753.94" y1="574.80" x2="753.94" y2="571.80" stroke="#181818" stroke-width="1.6"/><text x="794.30" y="591.30" font-size="10.60" text-anchor="middle">70</text><line x1="794.30" y1="574.80" x2="794.30" y2="571.80" stroke="#181818" stroke-width="1.6"/><path d="M592.50 349.10V574.80H794.30" fill="none" stroke="#181818" stroke-width="1.80" stroke-linejoin="miter" stroke-linecap="square"/><text x="693.40" y="607.50" font-size="12.45" text-anchor="middle">IRI-C Score</text><text transform="translate(561.80 462.75) rotate(-90)" x="0" y="0" font-size="12.45" text-anchor="middle">Brain Activation</text><text x="620.75" y="365.20" font-size="11.00" font-weight="bold">r = -0.20</text><circle cx="620.72" cy="439.42" r="3.5"/><circle cx="624.83" cy="469.14" r="3.5"/><circle cx="669.21" cy="455.84" r="3.5"/><circle cx="681.14" cy="472.66" r="3.5"/><circle cx="681.14" cy="475.01" r="3.5"/><circle cx="681.14" cy="477.35" r="3.5"/><circle cx="689.35" cy="430.62" r="3.5"/><circle cx="689.35" cy="462.69" r="3.5"/><circle cx="693.26" cy="457.41" r="3.5"/><circle cx="693.26" cy="484.98" r="3.5"/><circle cx="701.47" cy="453.11" r="3.5"/><circle cx="701.47" cy="454.47" r="3.5"/><circle cx="701.47" cy="492.02" r="3.5"/><circle cx="705.58" cy="448.61" r="3.5"/><circle cx="705.58" cy="462.10" r="3.5"/><circle cx="717.70" cy="442.35" r="3.5"/><circle cx="717.70" cy="457.21" r="3.5"/><circle cx="725.53" cy="449.20" r="3.5"/><circle cx="725.53" cy="458.19" r="3.5"/><circle cx="725.53" cy="488.69" r="3.5"/><circle cx="729.63" cy="420.26" r="3.5"/><circle cx="729.63" cy="444.11" r="3.5"/><circle cx="729.63" cy="464.25" r="3.5"/><circle cx="733.74" cy="461.91" r="3.5"/><circle cx="741.75" cy="428.47" r="3.5"/><circle cx="745.86" cy="471.49" r="3.5"/><circle cx="745.86" cy="482.24" r="3.5"/><circle cx="757.79" cy="459.75" r="3.5"/><circle cx="757.79" cy="526.82" r="3.5"/><circle cx="761.89" cy="488.69" r="3.5"/><circle cx="766.20" cy="473.25" r="3.5"/><circle cx="770.11" cy="469.34" r="3.5"/><circle cx="778.32" cy="463.27" r="3.5"/><circle cx="782.23" cy="465.62" r="3.5"/><line x1="620.72" y1="453.50" x2="782.23" y2="470.12" stroke="#b9b9b9" stroke-width="2"/></g>
<g><text x="959.35" y="344.00" font-size="12.10" text-anchor="middle">ROI 8: rDLPFC</text><text x="853.40" y="353.80" font-size="10.60" text-anchor="end">2</text><line x1="858.40" y1="349.10" x2="861.40" y2="349.10" stroke="#181818" stroke-width="1.6"/><text x="853.40" y="382.01" font-size="10.60" text-anchor="end">1.5</text><line x1="858.40" y1="377.31" x2="861.40" y2="377.31" stroke="#181818" stroke-width="1.6"/><text x="853.40" y="410.23" font-size="10.60" text-anchor="end">1</text><line x1="858.40" y1="405.53" x2="861.40" y2="405.53" stroke="#181818" stroke-width="1.6"/><text x="853.40" y="438.44" font-size="10.60" text-anchor="end">0.5</text><line x1="858.40" y1="433.74" x2="861.40" y2="433.74" stroke="#181818" stroke-width="1.6"/><text x="853.40" y="466.65" font-size="10.60" text-anchor="end">0</text><line x1="858.40" y1="461.95" x2="861.40" y2="461.95" stroke="#181818" stroke-width="1.6"/><text x="853.40" y="494.86" font-size="10.60" text-anchor="end">-0.5</text><line x1="858.40" y1="490.16" x2="861.40" y2="490.16" stroke="#181818" stroke-width="1.6"/><text x="853.40" y="523.08" font-size="10.60" text-anchor="end">-1</text><line x1="858.40" y1="518.38" x2="861.40" y2="518.38" stroke="#181818" stroke-width="1.6"/><text x="853.40" y="551.29" font-size="10.60" text-anchor="end">-1.5</text><line x1="858.40" y1="546.59" x2="861.40" y2="546.59" stroke="#181818" stroke-width="1.6"/><text x="853.40" y="579.50" font-size="10.60" text-anchor="end">-2</text><line x1="858.40" y1="574.80" x2="861.40" y2="574.80" stroke="#181818" stroke-width="1.6"/><text x="858.40" y="591.30" font-size="10.60" text-anchor="middle">20</text><line x1="858.40" y1="574.80" x2="858.40" y2="571.80" stroke="#181818" stroke-width="1.6"/><text x="898.78" y="591.30" font-size="10.60" text-anchor="middle">30</text><line x1="898.78" y1="574.80" x2="898.78" y2="571.80" stroke="#181818" stroke-width="1.6"/><text x="939.16" y="591.30" font-size="10.60" text-anchor="middle">40</text><line x1="939.16" y1="574.80" x2="939.16" y2="571.80" stroke="#181818" stroke-width="1.6"/><text x="979.54" y="591.30" font-size="10.60" text-anchor="middle">50</text><line x1="979.54" y1="574.80" x2="979.54" y2="571.80" stroke="#181818" stroke-width="1.6"/><text x="1019.92" y="591.30" font-size="10.60" text-anchor="middle">60</text><line x1="1019.92" y1="574.80" x2="1019.92" y2="571.80" stroke="#181818" stroke-width="1.6"/><text x="1060.30" y="591.30" font-size="10.60" text-anchor="middle">70</text><line x1="1060.30" y1="574.80" x2="1060.30" y2="571.80" stroke="#181818" stroke-width="1.6"/><path d="M858.40 349.10V574.80H1060.30" fill="none" stroke="#181818" stroke-width="1.80" stroke-linejoin="miter" stroke-linecap="square"/><text x="959.35" y="607.50" font-size="12.45" text-anchor="middle">IRI-C Score</text><text transform="translate(827.70 462.75) rotate(-90)" x="0" y="0" font-size="12.45" text-anchor="middle">Brain Activation</text><text x="886.67" y="365.20" font-size="11.00" font-weight="bold">r = 0.13</text><circle cx="886.33" cy="444.70" r="3.5"/><circle cx="890.63" cy="451.15" r="3.5"/><circle cx="934.82" cy="449.98" r="3.5"/><circle cx="946.94" cy="468.94" r="3.5"/><circle cx="946.94" cy="489.67" r="3.5"/><circle cx="955.16" cy="474.61" r="3.5"/><circle cx="955.16" cy="485.37" r="3.5"/><circle cx="959.07" cy="469.14" r="3.5"/><circle cx="959.07" cy="499.45" r="3.5"/><circle cx="967.28" cy="456.82" r="3.5"/><circle cx="967.28" cy="472.07" r="3.5"/><circle cx="967.28" cy="487.13" r="3.5"/><circle cx="971.39" cy="445.28" r="3.5"/><circle cx="971.39" cy="457.02" r="3.5"/><circle cx="983.51" cy="412.63" r="3.5"/><circle cx="983.51" cy="457.41" r="3.5"/><circle cx="991.33" cy="444.70" r="3.5"/><circle cx="991.33" cy="452.13" r="3.5"/><circle cx="991.33" cy="475.01" r="3.5"/><circle cx="995.44" cy="395.03" r="3.5"/><circle cx="995.44" cy="453.11" r="3.5"/><circle cx="995.44" cy="460.54" r="3.5"/><circle cx="999.54" cy="466.40" r="3.5"/><circle cx="1007.56" cy="455.45" r="3.5"/><circle cx="1011.66" cy="465.03" r="3.5"/><circle cx="1011.66" cy="474.61" r="3.5"/><circle cx="1023.59" cy="431.99" r="3.5"/><circle cx="1023.59" cy="444.31" r="3.5"/><circle cx="1027.70" cy="466.60" r="3.5"/><circle cx="1031.80" cy="459.36" r="3.5"/><circle cx="1035.91" cy="472.07" r="3.5"/><circle cx="1044.12" cy="456.23" r="3.5"/><circle cx="1048.23" cy="457.02" r="3.5"/><line x1="886.33" y1="466.21" x2="1048.23" y2="455.06" stroke="#b9b9b9" stroke-width="2"/></g>
<text x="5.9" y="634.8" font-size="18.00" font-weight="bold" fill="#000">B</text>
<g><text x="161.80" y="650.70" font-size="12.10" text-anchor="middle">ROI 1: rSTG</text><text x="56.10" y="660.50" font-size="10.60" text-anchor="end">2</text><line x1="61.10" y1="655.80" x2="64.10" y2="655.80" stroke="#181818" stroke-width="1.6"/><text x="56.10" y="688.79" font-size="10.60" text-anchor="end">1.5</text><line x1="61.10" y1="684.09" x2="64.10" y2="684.09" stroke="#181818" stroke-width="1.6"/><text x="56.10" y="717.08" font-size="10.60" text-anchor="end">1</text><line x1="61.10" y1="712.38" x2="64.10" y2="712.38" stroke="#181818" stroke-width="1.6"/><text x="56.10" y="745.36" font-size="10.60" text-anchor="end">0.5</text><line x1="61.10" y1="740.66" x2="64.10" y2="740.66" stroke="#181818" stroke-width="1.6"/><text x="56.10" y="773.65" font-size="10.60" text-anchor="end">0</text><line x1="61.10" y1="768.95" x2="64.10" y2="768.95" stroke="#181818" stroke-width="1.6"/><text x="56.10" y="801.94" font-size="10.60" text-anchor="end">-0.5</text><line x1="61.10" y1="797.24" x2="64.10" y2="797.24" stroke="#181818" stroke-width="1.6"/><text x="56.10" y="830.23" font-size="10.60" text-anchor="end">-1</text><line x1="61.10" y1="825.52" x2="64.10" y2="825.52" stroke="#181818" stroke-width="1.6"/><text x="56.10" y="858.51" font-size="10.60" text-anchor="end">-1.5</text><line x1="61.10" y1="853.81" x2="64.10" y2="853.81" stroke="#181818" stroke-width="1.6"/><text x="56.10" y="886.80" font-size="10.60" text-anchor="end">-2</text><line x1="61.10" y1="882.10" x2="64.10" y2="882.10" stroke="#181818" stroke-width="1.6"/><text x="61.10" y="898.60" font-size="10.60" text-anchor="middle">5</text><line x1="61.10" y1="882.10" x2="61.10" y2="879.10" stroke="#181818" stroke-width="1.6"/><text x="101.38" y="898.60" font-size="10.60" text-anchor="middle">10</text><line x1="101.38" y1="882.10" x2="101.38" y2="879.10" stroke="#181818" stroke-width="1.6"/><text x="141.66" y="898.60" font-size="10.60" text-anchor="middle">15</text><line x1="141.66" y1="882.10" x2="141.66" y2="879.10" stroke="#181818" stroke-width="1.6"/><text x="181.94" y="898.60" font-size="10.60" text-anchor="middle">20</text><line x1="181.94" y1="882.10" x2="181.94" y2="879.10" stroke="#181818" stroke-width="1.6"/><text x="222.22" y="898.60" font-size="10.60" text-anchor="middle">25</text><line x1="222.22" y1="882.10" x2="222.22" y2="879.10" stroke="#181818" stroke-width="1.6"/><text x="262.50" y="898.60" font-size="10.60" text-anchor="middle">30</text><line x1="262.50" y1="882.10" x2="262.50" y2="879.10" stroke="#181818" stroke-width="1.6"/><path d="M61.10 655.80V882.10H262.50" fill="none" stroke="#181818" stroke-width="1.80" stroke-linejoin="miter" stroke-linecap="square"/><text x="161.80" y="914.80" font-size="12.45" text-anchor="middle">RSQ Score</text><text transform="translate(30.40 769.75) rotate(-90)" x="0" y="0" font-size="12.45" text-anchor="middle">Brain Activation</text><text x="69.16" y="671.90" font-size="11.00" font-weight="bold">r = 0.41</text><circle cx="69.19" cy="792.15" r="3.5"/><circle cx="80.53" cy="794.50" r="3.5"/><circle cx="95.00" cy="773.58" r="3.5"/><circle cx="102.23" cy="782.37" r="3.5"/><circle cx="105.36" cy="761.84" r="3.5"/><circle cx="106.93" cy="812.09" r="3.5"/><circle cx="124.53" cy="773.58" r="3.5"/><circle cx="126.48" cy="769.27" r="3.5"/><circle cx="128.04" cy="766.93" r="3.5"/><circle cx="128.04" cy="757.74" r="3.5"/><circle cx="137.23" cy="756.76" r="3.5"/><circle cx="137.23" cy="771.62" r="3.5"/><circle cx="137.23" cy="793.13" r="3.5"/><circle cx="138.60" cy="770.64" r="3.5"/><circle cx="142.12" cy="773.77" r="3.5"/><circle cx="145.25" cy="780.61" r="3.5"/><circle cx="151.51" cy="766.54" r="3.5"/><circle cx="153.85" cy="764.97" r="3.5"/><circle cx="155.42" cy="785.11" r="3.5"/><circle cx="158.16" cy="769.47" r="3.5"/><circle cx="166.96" cy="812.49" r="3.5"/><circle cx="169.89" cy="773.18" r="3.5"/><circle cx="174.39" cy="759.30" r="3.5"/><circle cx="175.36" cy="769.27" r="3.5"/><circle cx="176.93" cy="746.98" r="3.5"/><circle cx="179.66" cy="729.39" r="3.5"/><circle cx="202.74" cy="767.91" r="3.5"/><circle cx="202.74" cy="784.72" r="3.5"/><circle cx="203.32" cy="745.81" r="3.5"/><circle cx="205.67" cy="758.13" r="3.5"/><circle cx="207.63" cy="762.82" r="3.5"/><circle cx="226.59" cy="747.18" r="3.5"/><circle cx="229.72" cy="762.82" r="3.5"/><circle cx="242.63" cy="779.25" r="3.5"/><line x1="69.19" y1="784.92" x2="242.63" y2="756.56" stroke="#b9b9b9" stroke-width="2"/></g>
<g><text x="427.40" y="650.70" font-size="12.10" text-anchor="middle">ROI 2: rSMG</text><text x="321.60" y="660.50" font-size="10.60" text-anchor="end">2</text><line x1="326.60" y1="655.80" x2="329.60" y2="655.80" stroke="#181818" stroke-width="1.6"/><text x="321.60" y="688.79" font-size="10.60" text-anchor="end">1.5</text><line x1="326.60" y1="684.09" x2="329.60" y2="684.09" stroke="#181818" stroke-width="1.6"/><text x="321.60" y="717.08" font-size="10.60" text-anchor="end">1</text><line x1="326.60" y1="712.38" x2="329.60" y2="712.38" stroke="#181818" stroke-width="1.6"/><text x="321.60" y="745.36" font-size="10.60" text-anchor="end">0.5</text><line x1="326.60" y1="740.66" x2="329.60" y2="740.66" stroke="#181818" stroke-width="1.6"/><text x="321.60" y="773.65" font-size="10.60" text-anchor="end">0</text><line x1="326.60" y1="768.95" x2="329.60" y2="768.95" stroke="#181818" stroke-width="1.6"/><text x="321.60" y="801.94" font-size="10.60" text-anchor="end">-0.5</text><line x1="326.60" y1="797.24" x2="329.60" y2="797.24" stroke="#181818" stroke-width="1.6"/><text x="321.60" y="830.23" font-size="10.60" text-anchor="end">-1</text><line x1="326.60" y1="825.52" x2="329.60" y2="825.52" stroke="#181818" stroke-width="1.6"/><text x="321.60" y="858.51" font-size="10.60" text-anchor="end">-1.5</text><line x1="326.60" y1="853.81" x2="329.60" y2="853.81" stroke="#181818" stroke-width="1.6"/><text x="321.60" y="886.80" font-size="10.60" text-anchor="end">-2</text><line x1="326.60" y1="882.10" x2="329.60" y2="882.10" stroke="#181818" stroke-width="1.6"/><text x="326.60" y="898.60" font-size="10.60" text-anchor="middle">5</text><line x1="326.60" y1="882.10" x2="326.60" y2="879.10" stroke="#181818" stroke-width="1.6"/><text x="366.92" y="898.60" font-size="10.60" text-anchor="middle">10</text><line x1="366.92" y1="882.10" x2="366.92" y2="879.10" stroke="#181818" stroke-width="1.6"/><text x="407.24" y="898.60" font-size="10.60" text-anchor="middle">15</text><line x1="407.24" y1="882.10" x2="407.24" y2="879.10" stroke="#181818" stroke-width="1.6"/><text x="447.56" y="898.60" font-size="10.60" text-anchor="middle">20</text><line x1="447.56" y1="882.10" x2="447.56" y2="879.10" stroke="#181818" stroke-width="1.6"/><text x="487.88" y="898.60" font-size="10.60" text-anchor="middle">25</text><line x1="487.88" y1="882.10" x2="487.88" y2="879.10" stroke="#181818" stroke-width="1.6"/><text x="528.20" y="898.60" font-size="10.60" text-anchor="middle">30</text><line x1="528.20" y1="882.10" x2="528.20" y2="879.10" stroke="#181818" stroke-width="1.6"/><path d="M326.60 655.80V882.10H528.20" fill="none" stroke="#181818" stroke-width="1.80" stroke-linejoin="miter" stroke-linecap="square"/><text x="427.40" y="914.80" font-size="12.45" text-anchor="middle">RSQ Score</text><text transform="translate(295.90 769.75) rotate(-90)" x="0" y="0" font-size="12.45" text-anchor="middle">Brain Activation</text><text x="334.66" y="671.90" font-size="11.00" font-weight="bold">r = 0.48*</text><circle cx="334.19" cy="794.69" r="3.5"/><circle cx="345.53" cy="766.93" r="3.5"/><circle cx="360.39" cy="775.34" r="3.5"/><circle cx="367.43" cy="778.07" r="3.5"/><circle cx="370.56" cy="772.99" r="3.5"/><circle cx="372.32" cy="804.08" r="3.5"/><circle cx="389.92" cy="755.78" r="3.5"/><circle cx="391.87" cy="763.41" r="3.5"/><circle cx="393.83" cy="761.65" r="3.5"/><circle cx="393.04" cy="783.94" r="3.5"/><circle cx="402.63" cy="756.56" r="3.5"/><circle cx="402.63" cy="772.21" r="3.5"/><circle cx="402.63" cy="775.34" r="3.5"/><circle cx="403.02" cy="778.07" r="3.5"/><circle cx="404.19" cy="768.49" r="3.5"/><circle cx="407.71" cy="753.04" r="3.5"/><circle cx="410.45" cy="782.57" r="3.5"/><circle cx="416.90" cy="748.16" r="3.5"/><circle cx="419.25" cy="760.08" r="3.5"/><circle cx="420.81" cy="780.42" r="3.5"/><circle cx="423.35" cy="766.93" r="3.5"/><circle cx="432.54" cy="772.40" r="3.5"/><circle cx="435.67" cy="773.97" r="3.5"/><circle cx="440.36" cy="766.93" r="3.5"/><circle cx="442.32" cy="735.84" r="3.5"/><circle cx="445.25" cy="751.68" r="3.5"/><circle cx="468.13" cy="764.97" r="3.5"/><circle cx="468.72" cy="753.83" r="3.5"/><circle cx="468.72" cy="775.73" r="3.5"/><circle cx="471.65" cy="755.78" r="3.5"/><circle cx="473.21" cy="762.43" r="3.5"/><circle cx="492.18" cy="744.83" r="3.5"/><circle cx="495.50" cy="753.44" r="3.5"/><circle cx="508.41" cy="772.60" r="3.5"/><line x1="334.19" y1="780.61" x2="508.41" y2="753.24" stroke="#b9b9b9" stroke-width="2"/></g>
<g><text x="693.40" y="650.70" font-size="12.10" text-anchor="middle">ROI 3: rAG</text><text x="587.50" y="660.50" font-size="10.60" text-anchor="end">2</text><line x1="592.50" y1="655.80" x2="595.50" y2="655.80" stroke="#181818" stroke-width="1.6"/><text x="587.50" y="688.79" font-size="10.60" text-anchor="end">1.5</text><line x1="592.50" y1="684.09" x2="595.50" y2="684.09" stroke="#181818" stroke-width="1.6"/><text x="587.50" y="717.08" font-size="10.60" text-anchor="end">1</text><line x1="592.50" y1="712.38" x2="595.50" y2="712.38" stroke="#181818" stroke-width="1.6"/><text x="587.50" y="745.36" font-size="10.60" text-anchor="end">0.5</text><line x1="592.50" y1="740.66" x2="595.50" y2="740.66" stroke="#181818" stroke-width="1.6"/><text x="587.50" y="773.65" font-size="10.60" text-anchor="end">0</text><line x1="592.50" y1="768.95" x2="595.50" y2="768.95" stroke="#181818" stroke-width="1.6"/><text x="587.50" y="801.94" font-size="10.60" text-anchor="end">-0.5</text><line x1="592.50" y1="797.24" x2="595.50" y2="797.24" stroke="#181818" stroke-width="1.6"/><text x="587.50" y="830.23" font-size="10.60" text-anchor="end">-1</text><line x1="592.50" y1="825.52" x2="595.50" y2="825.52" stroke="#181818" stroke-width="1.6"/><text x="587.50" y="858.51" font-size="10.60" text-anchor="end">-1.5</text><line x1="592.50" y1="853.81" x2="595.50" y2="853.81" stroke="#181818" stroke-width="1.6"/><text x="587.50" y="886.80" font-size="10.60" text-anchor="end">-2</text><line x1="592.50" y1="882.10" x2="595.50" y2="882.10" stroke="#181818" stroke-width="1.6"/><text x="592.50" y="898.60" font-size="10.60" text-anchor="middle">5</text><line x1="592.50" y1="882.10" x2="592.50" y2="879.10" stroke="#181818" stroke-width="1.6"/><text x="632.86" y="898.60" font-size="10.60" text-anchor="middle">10</text><line x1="632.86" y1="882.10" x2="632.86" y2="879.10" stroke="#181818" stroke-width="1.6"/><text x="673.22" y="898.60" font-size="10.60" text-anchor="middle">15</text><line x1="673.22" y1="882.10" x2="673.22" y2="879.10" stroke="#181818" stroke-width="1.6"/><text x="713.58" y="898.60" font-size="10.60" text-anchor="middle">20</text><line x1="713.58" y1="882.10" x2="713.58" y2="879.10" stroke="#181818" stroke-width="1.6"/><text x="753.94" y="898.60" font-size="10.60" text-anchor="middle">25</text><line x1="753.94" y1="882.10" x2="753.94" y2="879.10" stroke="#181818" stroke-width="1.6"/><text x="794.30" y="898.60" font-size="10.60" text-anchor="middle">30</text><line x1="794.30" y1="882.10" x2="794.30" y2="879.10" stroke="#181818" stroke-width="1.6"/><path d="M592.50 655.80V882.10H794.30" fill="none" stroke="#181818" stroke-width="1.80" stroke-linejoin="miter" stroke-linecap="square"/><text x="693.40" y="914.80" font-size="12.45" text-anchor="middle">RSQ Score</text><text transform="translate(561.80 769.75) rotate(-90)" x="0" y="0" font-size="12.45" text-anchor="middle">Brain Activation</text><text x="600.57" y="671.90" font-size="11.00" font-weight="bold">r = -0.02</text><circle cx="600.19" cy="702.01" r="3.5"/><circle cx="611.34" cy="777.49" r="3.5"/><circle cx="626.20" cy="776.51" r="3.5"/><circle cx="633.23" cy="789.22" r="3.5"/><circle cx="636.36" cy="783.16" r="3.5"/><circle cx="638.32" cy="815.03" r="3.5"/><circle cx="655.92" cy="755.59" r="3.5"/><circle cx="657.68" cy="769.86" r="3.5"/><circle cx="659.04" cy="759.50" r="3.5"/><circle cx="659.44" cy="763.41" r="3.5"/><circle cx="668.63" cy="733.10" r="3.5"/><circle cx="668.63" cy="772.21" r="3.5"/><circle cx="668.23" cy="777.49" r="3.5"/><circle cx="668.63" cy="780.03" r="3.5"/><circle cx="669.99" cy="785.50" r="3.5"/><circle cx="673.51" cy="766.93" r="3.5"/><circle cx="676.64" cy="783.74" r="3.5"/><circle cx="682.70" cy="691.65" r="3.5"/><circle cx="685.05" cy="757.15" r="3.5"/><circle cx="686.81" cy="789.02" r="3.5"/><circle cx="689.16" cy="769.47" r="3.5"/><circle cx="698.54" cy="783.35" r="3.5"/><circle cx="701.28" cy="736.62" r="3.5"/><circle cx="705.58" cy="726.26" r="3.5"/><circle cx="706.75" cy="778.66" r="3.5"/><circle cx="708.51" cy="729.19" r="3.5"/><circle cx="711.06" cy="794.50" r="3.5"/><circle cx="734.32" cy="785.31" r="3.5"/><circle cx="734.52" cy="789.02" r="3.5"/><circle cx="734.72" cy="753.63" r="3.5"/><circle cx="737.26" cy="761.84" r="3.5"/><circle cx="739.02" cy="748.35" r="3.5"/><circle cx="758.18" cy="764.19" r="3.5"/><circle cx="761.50" cy="785.50" r="3.5"/><circle cx="774.41" cy="765.36" r="3.5"/><line x1="600.19" y1="764.78" x2="774.41" y2="766.93" stroke="#b9b9b9" stroke-width="2"/></g>
<g><text x="959.40" y="650.70" font-size="12.10" text-anchor="middle">ROI 4: mPFC</text><text x="853.50" y="660.50" font-size="10.60" text-anchor="end">2</text><line x1="858.50" y1="655.80" x2="861.50" y2="655.80" stroke="#181818" stroke-width="1.6"/><text x="853.50" y="688.79" font-size="10.60" text-anchor="end">1.5</text><line x1="858.50" y1="684.09" x2="861.50" y2="684.09" stroke="#181818" stroke-width="1.6"/><text x="853.50" y="717.08" font-size="10.60" text-anchor="end">1</text><line x1="858.50" y1="712.38" x2="861.50" y2="712.38" stroke="#181818" stroke-width="1.6"/><text x="853.50" y="745.36" font-size="10.60" text-anchor="end">0.5</text><line x1="858.50" y1="740.66" x2="861.50" y2="740.66" stroke="#181818" stroke-width="1.6"/><text x="853.50" y="773.65" font-size="10.60" text-anchor="end">0</text><line x1="858.50" y1="768.95" x2="861.50" y2="768.95" stroke="#181818" stroke-width="1.6"/><text x="853.50" y="801.94" font-size="10.60" text-anchor="end">-0.5</text><line x1="858.50" y1="797.24" x2="861.50" y2="797.24" stroke="#181818" stroke-width="1.6"/><text x="853.50" y="830.23" font-size="10.60" text-anchor="end">-1</text><line x1="858.50" y1="825.52" x2="861.50" y2="825.52" stroke="#181818" stroke-width="1.6"/><text x="853.50" y="858.51" font-size="10.60" text-anchor="end">-1.5</text><line x1="858.50" y1="853.81" x2="861.50" y2="853.81" stroke="#181818" stroke-width="1.6"/><text x="853.50" y="886.80" font-size="10.60" text-anchor="end">-2</text><line x1="858.50" y1="882.10" x2="861.50" y2="882.10" stroke="#181818" stroke-width="1.6"/><text x="858.50" y="898.60" font-size="10.60" text-anchor="middle">5</text><line x1="858.50" y1="882.10" x2="858.50" y2="879.10" stroke="#181818" stroke-width="1.6"/><text x="898.86" y="898.60" font-size="10.60" text-anchor="middle">10</text><line x1="898.86" y1="882.10" x2="898.86" y2="879.10" stroke="#181818" stroke-width="1.6"/><text x="939.22" y="898.60" font-size="10.60" text-anchor="middle">15</text><line x1="939.22" y1="882.10" x2="939.22" y2="879.10" stroke="#181818" stroke-width="1.6"/><text x="979.58" y="898.60" font-size="10.60" text-anchor="middle">20</text><line x1="979.58" y1="882.10" x2="979.58" y2="879.10" stroke="#181818" stroke-width="1.6"/><text x="1019.94" y="898.60" font-size="10.60" text-anchor="middle">25</text><line x1="1019.94" y1="882.10" x2="1019.94" y2="879.10" stroke="#181818" stroke-width="1.6"/><text x="1060.30" y="898.60" font-size="10.60" text-anchor="middle">30</text><line x1="1060.30" y1="882.10" x2="1060.30" y2="879.10" stroke="#181818" stroke-width="1.6"/><path d="M858.50 655.80V882.10H1060.30" fill="none" stroke="#181818" stroke-width="1.80" stroke-linejoin="miter" stroke-linecap="square"/><text x="959.40" y="914.80" font-size="12.45" text-anchor="middle">RSQ Score</text><text transform="translate(827.80 769.75) rotate(-90)" x="0" y="0" font-size="12.45" text-anchor="middle">Brain Activation</text><text x="866.57" y="671.90" font-size="11.00" font-weight="bold">r = 0.15</text><circle cx="866.19" cy="749.33" r="3.5"/><circle cx="877.34" cy="759.50" r="3.5"/><circle cx="892.00" cy="756.76" r="3.5"/><circle cx="899.23" cy="772.40" r="3.5"/><circle cx="902.56" cy="768.88" r="3.5"/><circle cx="904.12" cy="839.27" r="3.5"/><circle cx="921.72" cy="757.74" r="3.5"/><circle cx="923.68" cy="767.32" r="3.5"/><circle cx="925.04" cy="769.27" r="3.5"/><circle cx="925.04" cy="742.88" r="3.5"/><circle cx="934.43" cy="737.01" r="3.5"/><circle cx="934.43" cy="779.05" r="3.5"/><circle cx="934.43" cy="792.35" r="3.5"/><circle cx="935.21" cy="779.05" r="3.5"/><circle cx="935.99" cy="754.02" r="3.5"/><circle cx="939.51" cy="731.54" r="3.5"/><circle cx="942.64" cy="731.34" r="3.5"/><circle cx="948.51" cy="751.09" r="3.5"/><circle cx="951.05" cy="771.82" r="3.5"/><circle cx="952.81" cy="754.22" r="3.5"/><circle cx="955.35" cy="750.11" r="3.5"/><circle cx="964.35" cy="772.79" r="3.5"/><circle cx="967.28" cy="762.43" r="3.5"/><circle cx="971.78" cy="772.01" r="3.5"/><circle cx="972.56" cy="752.07" r="3.5"/><circle cx="974.12" cy="722.35" r="3.5"/><circle cx="977.06" cy="660.17" r="3.5"/><circle cx="1000.13" cy="759.11" r="3.5"/><circle cx="1000.13" cy="783.74" r="3.5"/><circle cx="1000.72" cy="738.18" r="3.5"/><circle cx="1003.26" cy="752.26" r="3.5"/><circle cx="1004.82" cy="754.22" r="3.5"/><circle cx="1023.98" cy="777.88" r="3.5"/><circle cx="1027.31" cy="729.39" r="3.5"/><circle cx="1040.21" cy="786.48" r="3.5"/><line x1="866.19" y1="766.93" x2="1040.21" y2="749.72" stroke="#b9b9b9" stroke-width="2"/></g>
<g><text x="161.80" y="964.80" font-size="12.10" text-anchor="middle">ROI 5: lvlPFC</text><text x="56.10" y="974.60" font-size="10.60" text-anchor="end">2</text><line x1="61.10" y1="969.90" x2="64.10" y2="969.90" stroke="#181818" stroke-width="1.6"/><text x="56.10" y="1002.81" font-size="10.60" text-anchor="end">1.5</text><line x1="61.10" y1="998.11" x2="64.10" y2="998.11" stroke="#181818" stroke-width="1.6"/><text x="56.10" y="1031.03" font-size="10.60" text-anchor="end">1</text><line x1="61.10" y1="1026.33" x2="64.10" y2="1026.33" stroke="#181818" stroke-width="1.6"/><text x="56.10" y="1059.24" font-size="10.60" text-anchor="end">0.5</text><line x1="61.10" y1="1054.54" x2="64.10" y2="1054.54" stroke="#181818" stroke-width="1.6"/><text x="56.10" y="1087.45" font-size="10.60" text-anchor="end">0</text><line x1="61.10" y1="1082.75" x2="64.10" y2="1082.75" stroke="#181818" stroke-width="1.6"/><text x="56.10" y="1115.66" font-size="10.60" text-anchor="end">-0.5</text><line x1="61.10" y1="1110.96" x2="64.10" y2="1110.96" stroke="#181818" stroke-width="1.6"/><text x="56.10" y="1143.88" font-size="10.60" text-anchor="end">-1</text><line x1="61.10" y1="1139.17" x2="64.10" y2="1139.17" stroke="#181818" stroke-width="1.6"/><text x="56.10" y="1172.09" font-size="10.60" text-anchor="end">-1.5</text><line x1="61.10" y1="1167.39" x2="64.10" y2="1167.39" stroke="#181818" stroke-width="1.6"/><text x="56.10" y="1200.30" font-size="10.60" text-anchor="end">-2</text><line x1="61.10" y1="1195.60" x2="64.10" y2="1195.60" stroke="#181818" stroke-width="1.6"/><text x="61.10" y="1212.10" font-size="10.60" text-anchor="middle">5</text><line x1="61.10" y1="1195.60" x2="61.10" y2="1192.60" stroke="#181818" stroke-width="1.6"/><text x="101.38" y="1212.10" font-size="10.60" text-anchor="middle">10</text><line x1="101.38" y1="1195.60" x2="101.38" y2="1192.60" stroke="#181818" stroke-width="1.6"/><text x="141.66" y="1212.10" font-size="10.60" text-anchor="middle">15</text><line x1="141.66" y1="1195.60" x2="141.66" y2="1192.60" stroke="#181818" stroke-width="1.6"/><text x="181.94" y="1212.10" font-size="10.60" text-anchor="middle">20</text><line x1="181.94" y1="1195.60" x2="181.94" y2="1192.60" stroke="#181818" stroke-width="1.6"/><text x="222.22" y="1212.10" font-size="10.60" text-anchor="middle">25</text><line x1="222.22" y1="1195.60" x2="222.22" y2="1192.60" stroke="#181818" stroke-width="1.6"/><text x="262.50" y="1212.10" font-size="10.60" text-anchor="middle">30</text><line x1="262.50" y1="1195.60" x2="262.50" y2="1192.60" stroke="#181818" stroke-width="1.6"/><path d="M61.10 969.90V1195.60H262.50" fill="none" stroke="#181818" stroke-width="1.80" stroke-linejoin="miter" stroke-linecap="square"/><text x="161.80" y="1228.30" font-size="12.45" text-anchor="middle">RSQ Score</text><text transform="translate(30.40 1083.55) rotate(-90)" x="0" y="0" font-size="12.45" text-anchor="middle">Brain Activation</text><text x="69.16" y="986.00" font-size="11.00" font-weight="bold">r = 0.07</text><circle cx="69.19" cy="1071.74" r="3.5"/><circle cx="80.34" cy="1079.36" r="3.5"/><circle cx="95.00" cy="1082.30" r="3.5"/><circle cx="102.23" cy="1084.64" r="3.5"/><circle cx="105.36" cy="1076.63" r="3.5"/><circle cx="107.12" cy="1085.42" r="3.5"/><circle cx="124.72" cy="1081.71" r="3.5"/><circle cx="126.68" cy="1079.17" r="3.5"/><circle cx="128.04" cy="1083.66" r="3.5"/><circle cx="128.04" cy="1070.76" r="3.5"/><circle cx="137.04" cy="1095.98" r="3.5"/><circle cx="137.43" cy="1097.16" r="3.5"/><circle cx="137.23" cy="1115.15" r="3.5"/><circle cx="137.63" cy="1120.82" r="3.5"/><circle cx="138.99" cy="1084.06" r="3.5"/><circle cx="142.12" cy="1033.41" r="3.5"/><circle cx="145.25" cy="1056.88" r="3.5"/><circle cx="151.51" cy="1073.50" r="3.5"/><circle cx="154.05" cy="1084.64" r="3.5"/><circle cx="155.42" cy="1095.01" r="3.5"/><circle cx="158.16" cy="1076.04" r="3.5"/><circle cx="166.96" cy="1098.13" r="3.5"/><circle cx="169.89" cy="1070.17" r="3.5"/><circle cx="174.78" cy="1075.45" r="3.5"/><circle cx="175.36" cy="1079.36" r="3.5"/><circle cx="177.32" cy="1081.32" r="3.5"/><circle cx="180.06" cy="1081.32" r="3.5"/><circle cx="202.74" cy="1093.05" r="3.5"/><circle cx="203.13" cy="1080.93" r="3.5"/><circle cx="203.72" cy="1073.50" r="3.5"/><circle cx="205.67" cy="1071.54" r="3.5"/><circle cx="207.63" cy="1079.56" r="3.5"/><circle cx="226.59" cy="1053.94" r="3.5"/><circle cx="229.92" cy="1088.36" r="3.5"/><circle cx="242.82" cy="1084.84" r="3.5"/><line x1="69.19" y1="1083.66" x2="242.82" y2="1078.58" stroke="#b9b9b9" stroke-width="2"/></g>
<g><text x="427.40" y="964.80" font-size="12.10" text-anchor="middle">ROI 6: rvlPFC</text><text x="321.60" y="974.60" font-size="10.60" text-anchor="end">2</text><line x1="326.60" y1="969.90" x2="329.60" y2="969.90" stroke="#181818" stroke-width="1.6"/><text x="321.60" y="1002.81" font-size="10.60" text-anchor="end">1.5</text><line x1="326.60" y1="998.11" x2="329.60" y2="998.11" stroke="#181818" stroke-width="1.6"/><text x="321.60" y="1031.03" font-size="10.60" text-anchor="end">1</text><line x1="326.60" y1="1026.33" x2="329.60" y2="1026.33" stroke="#181818" stroke-width="1.6"/><text x="321.60" y="1059.24" font-size="10.60" text-anchor="end">0.5</text><line x1="326.60" y1="1054.54" x2="329.60" y2="1054.54" stroke="#181818" stroke-width="1.6"/><text x="321.60" y="1087.45" font-size="10.60" text-anchor="end">0</text><line x1="326.60" y1="1082.75" x2="329.60" y2="1082.75" stroke="#181818" stroke-width="1.6"/><text x="321.60" y="1115.66" font-size="10.60" text-anchor="end">-0.5</text><line x1="326.60" y1="1110.96" x2="329.60" y2="1110.96" stroke="#181818" stroke-width="1.6"/><text x="321.60" y="1143.88" font-size="10.60" text-anchor="end">-1</text><line x1="326.60" y1="1139.17" x2="329.60" y2="1139.17" stroke="#181818" stroke-width="1.6"/><text x="321.60" y="1172.09" font-size="10.60" text-anchor="end">-1.5</text><line x1="326.60" y1="1167.39" x2="329.60" y2="1167.39" stroke="#181818" stroke-width="1.6"/><text x="321.60" y="1200.30" font-size="10.60" text-anchor="end">-2</text><line x1="326.60" y1="1195.60" x2="329.60" y2="1195.60" stroke="#181818" stroke-width="1.6"/><text x="326.60" y="1212.10" font-size="10.60" text-anchor="middle">5</text><line x1="326.60" y1="1195.60" x2="326.60" y2="1192.60" stroke="#181818" stroke-width="1.6"/><text x="366.92" y="1212.10" font-size="10.60" text-anchor="middle">10</text><line x1="366.92" y1="1195.60" x2="366.92" y2="1192.60" stroke="#181818" stroke-width="1.6"/><text x="407.24" y="1212.10" font-size="10.60" text-anchor="middle">15</text><line x1="407.24" y1="1195.60" x2="407.24" y2="1192.60" stroke="#181818" stroke-width="1.6"/><text x="447.56" y="1212.10" font-size="10.60" text-anchor="middle">20</text><line x1="447.56" y1="1195.60" x2="447.56" y2="1192.60" stroke="#181818" stroke-width="1.6"/><text x="487.88" y="1212.10" font-size="10.60" text-anchor="middle">25</text><line x1="487.88" y1="1195.60" x2="487.88" y2="1192.60" stroke="#181818" stroke-width="1.6"/><text x="528.20" y="1212.10" font-size="10.60" text-anchor="middle">30</text><line x1="528.20" y1="1195.60" x2="528.20" y2="1192.60" stroke="#181818" stroke-width="1.6"/><path d="M326.60 969.90V1195.60H528.20" fill="none" stroke="#181818" stroke-width="1.80" stroke-linejoin="miter" stroke-linecap="square"/><text x="427.40" y="1228.30" font-size="12.45" text-anchor="middle">RSQ Score</text><text transform="translate(295.90 1083.55) rotate(-90)" x="0" y="0" font-size="12.45" text-anchor="middle">Brain Activation</text><text x="334.66" y="986.00" font-size="11.00" font-weight="bold">r = 0.15</text><circle cx="334.19" cy="1102.83" r="3.5"/><circle cx="345.53" cy="1079.75" r="3.5"/><circle cx="360.39" cy="1076.63" r="3.5"/><circle cx="367.43" cy="1085.23" r="3.5"/><circle cx="370.75" cy="1078.19" r="3.5"/><circle cx="372.32" cy="1094.81" r="3.5"/><circle cx="389.92" cy="1081.71" r="3.5"/><circle cx="391.87" cy="1061.77" r="3.5"/><circle cx="393.83" cy="1060.98" r="3.5"/><circle cx="393.44" cy="1080.93" r="3.5"/><circle cx="402.23" cy="1091.88" r="3.5"/><circle cx="402.63" cy="1081.32" r="3.5"/><circle cx="403.02" cy="1117.30" r="3.5"/><circle cx="404.19" cy="1074.87" r="3.5"/><circle cx="407.71" cy="1083.66" r="3.5"/><circle cx="410.64" cy="1075.84" r="3.5"/><circle cx="416.90" cy="1083.66" r="3.5"/><circle cx="419.25" cy="1083.66" r="3.5"/><circle cx="420.81" cy="1062.16" r="3.5"/><circle cx="423.35" cy="1078.97" r="3.5"/><circle cx="432.54" cy="1085.62" r="3.5"/><circle cx="435.67" cy="1100.68" r="3.5"/><circle cx="439.97" cy="1080.73" r="3.5"/><circle cx="440.95" cy="1051.01" r="3.5"/><circle cx="442.51" cy="1063.53" r="3.5"/><circle cx="445.45" cy="1079.36" r="3.5"/><circle cx="468.32" cy="1082.30" r="3.5"/><circle cx="469.69" cy="1083.27" r="3.5"/><circle cx="471.26" cy="1070.56" r="3.5"/><circle cx="473.60" cy="1084.64" r="3.5"/><circle cx="492.37" cy="1055.51" r="3.5"/><circle cx="495.50" cy="1087.58" r="3.5"/><circle cx="508.41" cy="1094.81" r="3.5"/><line x1="334.19" y1="1084.64" x2="508.41" y2="1076.43" stroke="#b9b9b9" stroke-width="2"/></g>
<g><text x="693.40" y="964.80" font-size="12.10" text-anchor="middle">ROI 7: lDLPFC</text><text x="587.50" y="974.60" font-size="10.60" text-anchor="end">2</text><line x1="592.50" y1="969.90" x2="595.50" y2="969.90" stroke="#181818" stroke-width="1.6"/><text x="587.50" y="1002.81" font-size="10.60" text-anchor="end">1.5</text><line x1="592.50" y1="998.11" x2="595.50" y2="998.11" stroke="#181818" stroke-width="1.6"/><text x="587.50" y="1031.03" font-size="10.60" text-anchor="end">1</text><line x1="592.50" y1="1026.33" x2="595.50" y2="1026.33" stroke="#181818" stroke-width="1.6"/><text x="587.50" y="1059.24" font-size="10.60" text-anchor="end">0.5</text><line x1="592.50" y1="1054.54" x2="595.50" y2="1054.54" stroke="#181818" stroke-width="1.6"/><text x="587.50" y="1087.45" font-size="10.60" text-anchor="end">0</text><line x1="592.50" y1="1082.75" x2="595.50" y2="1082.75" stroke="#181818" stroke-width="1.6"/><text x="587.50" y="1115.66" font-size="10.60" text-anchor="end">-0.5</text><line x1="592.50" y1="1110.96" x2="595.50" y2="1110.96" stroke="#181818" stroke-width="1.6"/><text x="587.50" y="1143.88" font-size="10.60" text-anchor="end">-1</text><line x1="592.50" y1="1139.17" x2="595.50" y2="1139.17" stroke="#181818" stroke-width="1.6"/><text x="587.50" y="1172.09" font-size="10.60" text-anchor="end">-1.5</text><line x1="592.50" y1="1167.39" x2="595.50" y2="1167.39" stroke="#181818" stroke-width="1.6"/><text x="587.50" y="1200.30" font-size="10.60" text-anchor="end">-2</text><line x1="592.50" y1="1195.60" x2="595.50" y2="1195.60" stroke="#181818" stroke-width="1.6"/><text x="592.50" y="1212.10" font-size="10.60" text-anchor="middle">5</text><line x1="592.50" y1="1195.60" x2="592.50" y2="1192.60" stroke="#181818" stroke-width="1.6"/><text x="632.86" y="1212.10" font-size="10.60" text-anchor="middle">10</text><line x1="632.86" y1="1195.60" x2="632.86" y2="1192.60" stroke="#181818" stroke-width="1.6"/><text x="673.22" y="1212.10" font-size="10.60" text-anchor="middle">15</text><line x1="673.22" y1="1195.60" x2="673.22" y2="1192.60" stroke="#181818" stroke-width="1.6"/><text x="713.58" y="1212.10" font-size="10.60" text-anchor="middle">20</text><line x1="713.58" y1="1195.60" x2="713.58" y2="1192.60" stroke="#181818" stroke-width="1.6"/><text x="753.94" y="1212.10" font-size="10.60" text-anchor="middle">25</text><line x1="753.94" y1="1195.60" x2="753.94" y2="1192.60" stroke="#181818" stroke-width="1.6"/><text x="794.30" y="1212.10" font-size="10.60" text-anchor="middle">30</text><line x1="794.30" y1="1195.60" x2="794.30" y2="1192.60" stroke="#181818" stroke-width="1.6"/><path d="M592.50 969.90V1195.60H794.30" fill="none" stroke="#181818" stroke-width="1.80" stroke-linejoin="miter" stroke-linecap="square"/><text x="693.40" y="1228.30" font-size="12.45" text-anchor="middle">RSQ Score</text><text transform="translate(561.80 1083.55) rotate(-90)" x="0" y="0" font-size="12.45" text-anchor="middle">Brain Activation</text><text x="600.57" y="986.00" font-size="11.00" font-weight="bold">r = -0.11</text><circle cx="600.19" cy="1051.79" r="3.5"/><circle cx="611.34" cy="1095.79" r="3.5"/><circle cx="626.20" cy="1083.27" r="3.5"/><circle cx="633.23" cy="1090.31" r="3.5"/><circle cx="636.36" cy="1086.40" r="3.5"/><circle cx="638.32" cy="1106.15" r="3.5"/><circle cx="655.92" cy="1074.28" r="3.5"/><circle cx="657.68" cy="1090.12" r="3.5"/><circle cx="659.04" cy="1084.06" r="3.5"/><circle cx="659.44" cy="1069.20" r="3.5"/><circle cx="668.04" cy="1109.47" r="3.5"/><circle cx="668.63" cy="1084.06" r="3.5"/><circle cx="669.02" cy="1092.27" r="3.5"/><circle cx="669.99" cy="1098.33" r="3.5"/><circle cx="673.51" cy="1041.23" r="3.5"/><circle cx="676.45" cy="1063.53" r="3.5"/><circle cx="682.70" cy="1060.59" r="3.5"/><circle cx="685.05" cy="1078.78" r="3.5"/><circle cx="686.81" cy="1093.44" r="3.5"/><circle cx="689.16" cy="1077.02" r="3.5"/><circle cx="698.54" cy="1075.26" r="3.5"/><circle cx="701.28" cy="1112.80" r="3.5"/><circle cx="705.58" cy="1079.36" r="3.5"/><circle cx="706.75" cy="1064.89" r="3.5"/><circle cx="708.51" cy="1078.39" r="3.5"/><circle cx="711.06" cy="1147.80" r="3.5"/><circle cx="734.13" cy="1109.67" r="3.5"/><circle cx="734.52" cy="1084.64" r="3.5"/><circle cx="734.72" cy="1049.45" r="3.5"/><circle cx="737.26" cy="1070.17" r="3.5"/><circle cx="739.02" cy="1082.69" r="3.5"/><circle cx="758.18" cy="1080.73" r="3.5"/><circle cx="761.50" cy="1094.03" r="3.5"/><circle cx="774.41" cy="1103.22" r="3.5"/><line x1="600.19" y1="1079.75" x2="774.41" y2="1088.75" stroke="#b9b9b9" stroke-width="2"/></g>
<g><text x="959.40" y="964.80" font-size="12.10" text-anchor="middle">ROI 8: rDLPFC</text><text x="853.50" y="974.60" font-size="10.60" text-anchor="end">2</text><line x1="858.50" y1="969.90" x2="861.50" y2="969.90" stroke="#181818" stroke-width="1.6"/><text x="853.50" y="1002.81" font-size="10.60" text-anchor="end">1.5</text><line x1="858.50" y1="998.11" x2="861.50" y2="998.11" stroke="#181818" stroke-width="1.6"/><text x="853.50" y="1031.03" font-size="10.60" text-anchor="end">1</text><line x1="858.50" y1="1026.33" x2="861.50" y2="1026.33" stroke="#181818" stroke-width="1.6"/><text x="853.50" y="1059.24" font-size="10.60" text-anchor="end">0.5</text><line x1="858.50" y1="1054.54" x2="861.50" y2="1054.54" stroke="#181818" stroke-width="1.6"/><text x="853.50" y="1087.45" font-size="10.60" text-anchor="end">0</text><line x1="858.50" y1="1082.75" x2="861.50" y2="1082.75" stroke="#181818" stroke-width="1.6"/><text x="853.50" y="1115.66" font-size="10.60" text-anchor="end">-0.5</text><line x1="858.50" y1="1110.96" x2="861.50" y2="1110.96" stroke="#181818" stroke-width="1.6"/><text x="853.50" y="1143.88" font-size="10.60" text-anchor="end">-1</text><line x1="858.50" y1="1139.17" x2="861.50" y2="1139.17" stroke="#181818" stroke-width="1.6"/><text x="853.50" y="1172.09" font-size="10.60" text-anchor="end">-1.5</text><line x1="858.50" y1="1167.39" x2="861.50" y2="1167.39" stroke="#181818" stroke-width="1.6"/><text x="853.50" y="1200.30" font-size="10.60" text-anchor="end">-2</text><line x1="858.50" y1="1195.60" x2="861.50" y2="1195.60" stroke="#181818" stroke-width="1.6"/><text x="858.50" y="1212.10" font-size="10.60" text-anchor="middle">5</text><line x1="858.50" y1="1195.60" x2="858.50" y2="1192.60" stroke="#181818" stroke-width="1.6"/><text x="898.86" y="1212.10" font-size="10.60" text-anchor="middle">10</text><line x1="898.86" y1="1195.60" x2="898.86" y2="1192.60" stroke="#181818" stroke-width="1.6"/><text x="939.22" y="1212.10" font-size="10.60" text-anchor="middle">15</text><line x1="939.22" y1="1195.60" x2="939.22" y2="1192.60" stroke="#181818" stroke-width="1.6"/><text x="979.58" y="1212.10" font-size="10.60" text-anchor="middle">20</text><line x1="979.58" y1="1195.60" x2="979.58" y2="1192.60" stroke="#181818" stroke-width="1.6"/><text x="1019.94" y="1212.10" font-size="10.60" text-anchor="middle">25</text><line x1="1019.94" y1="1195.60" x2="1019.94" y2="1192.60" stroke="#181818" stroke-width="1.6"/><text x="1060.30" y="1212.10" font-size="10.60" text-anchor="middle">30</text><line x1="1060.30" y1="1195.60" x2="1060.30" y2="1192.60" stroke="#181818" stroke-width="1.6"/><path d="M858.50 969.90V1195.60H1060.30" fill="none" stroke="#181818" stroke-width="1.80" stroke-linejoin="miter" stroke-linecap="square"/><text x="959.40" y="1228.30" font-size="12.45" text-anchor="middle">RSQ Score</text><text transform="translate(827.80 1083.55) rotate(-90)" x="0" y="0" font-size="12.45" text-anchor="middle">Brain Activation</text><text x="866.57" y="986.00" font-size="11.00" font-weight="bold">r = 0.31</text><circle cx="866.19" cy="1106.54" r="3.5"/><circle cx="877.34" cy="1110.45" r="3.5"/><circle cx="892.20" cy="1087.38" r="3.5"/><circle cx="899.23" cy="1092.66" r="3.5"/><circle cx="902.36" cy="1077.99" r="3.5"/><circle cx="904.12" cy="1120.03" r="3.5"/><circle cx="921.72" cy="1077.41" r="3.5"/><circle cx="923.68" cy="1072.13" r="3.5"/><circle cx="925.04" cy="1080.54" r="3.5"/><circle cx="925.83" cy="1078.39" r="3.5"/><circle cx="934.23" cy="1077.02" r="3.5"/><circle cx="934.23" cy="1087.18" r="3.5"/><circle cx="934.23" cy="1095.59" r="3.5"/><circle cx="936.19" cy="1089.53" r="3.5"/><circle cx="939.12" cy="1015.82" r="3.5"/><circle cx="942.45" cy="1078.39" r="3.5"/><circle cx="948.70" cy="1065.48" r="3.5"/><circle cx="951.05" cy="1090.31" r="3.5"/><circle cx="952.81" cy="1090.31" r="3.5"/><circle cx="955.16" cy="1070.96" r="3.5"/><circle cx="964.35" cy="1092.85" r="3.5"/><circle cx="967.28" cy="1107.91" r="3.5"/><circle cx="971.78" cy="1073.11" r="3.5"/><circle cx="972.75" cy="1073.50" r="3.5"/><circle cx="974.12" cy="1033.41" r="3.5"/><circle cx="977.06" cy="1052.97" r="3.5"/><circle cx="1000.13" cy="1095.98" r="3.5"/><circle cx="1000.32" cy="1078.39" r="3.5"/><circle cx="1000.72" cy="1076.43" r="3.5"/><circle cx="1002.67" cy="1065.48" r="3.5"/><circle cx="1005.02" cy="1066.26" r="3.5"/><circle cx="1024.18" cy="1065.09" r="3.5"/><circle cx="1027.31" cy="1080.15" r="3.5"/><circle cx="1040.21" cy="1095.40" r="3.5"/><line x1="866.19" y1="1092.66" x2="1040.21" y2="1067.63" stroke="#b9b9b9" stroke-width="2"/></g>
<text x="1.0" y="1262.4" font-size="18.31" font-weight="bold" fill="#000">C</text>
<g><text x="154.05" y="1285.71" font-size="12.31" text-anchor="middle">ROI 1: rSTG</text><text x="46.81" y="1295.68" font-size="10.78" text-anchor="end">2</text><line x1="51.90" y1="1290.90" x2="54.95" y2="1290.90" stroke="#181818" stroke-width="1.6"/><text x="46.81" y="1324.39" font-size="10.78" text-anchor="end">1.5</text><line x1="51.90" y1="1319.61" x2="54.95" y2="1319.61" stroke="#181818" stroke-width="1.6"/><text x="46.81" y="1353.10" font-size="10.78" text-anchor="end">1</text><line x1="51.90" y1="1348.33" x2="54.95" y2="1348.33" stroke="#181818" stroke-width="1.6"/><text x="46.81" y="1381.82" font-size="10.78" text-anchor="end">0.5</text><line x1="51.90" y1="1377.04" x2="54.95" y2="1377.04" stroke="#181818" stroke-width="1.6"/><text x="46.81" y="1410.53" font-size="10.78" text-anchor="end">0</text><line x1="51.90" y1="1405.75" x2="54.95" y2="1405.75" stroke="#181818" stroke-width="1.6"/><text x="46.81" y="1439.24" font-size="10.78" text-anchor="end">-0.5</text><line x1="51.90" y1="1434.46" x2="54.95" y2="1434.46" stroke="#181818" stroke-width="1.6"/><text x="46.81" y="1467.95" font-size="10.78" text-anchor="end">-1</text><line x1="51.90" y1="1463.18" x2="54.95" y2="1463.18" stroke="#181818" stroke-width="1.6"/><text x="46.81" y="1496.67" font-size="10.78" text-anchor="end">-1.5</text><line x1="51.90" y1="1491.89" x2="54.95" y2="1491.89" stroke="#181818" stroke-width="1.6"/><text x="46.81" y="1525.38" font-size="10.78" text-anchor="end">-2</text><line x1="51.90" y1="1520.60" x2="54.95" y2="1520.60" stroke="#181818" stroke-width="1.6"/><text x="51.90" y="1537.38" font-size="10.78" text-anchor="middle">20</text><line x1="51.90" y1="1520.60" x2="51.90" y2="1517.55" stroke="#181818" stroke-width="1.6"/><text x="92.76" y="1537.38" font-size="10.78" text-anchor="middle">30</text><line x1="92.76" y1="1520.60" x2="92.76" y2="1517.55" stroke="#181818" stroke-width="1.6"/><text x="133.62" y="1537.38" font-size="10.78" text-anchor="middle">40</text><line x1="133.62" y1="1520.60" x2="133.62" y2="1517.55" stroke="#181818" stroke-width="1.6"/><text x="174.48" y="1537.38" font-size="10.78" text-anchor="middle">50</text><line x1="174.48" y1="1520.60" x2="174.48" y2="1517.55" stroke="#181818" stroke-width="1.6"/><text x="215.34" y="1537.38" font-size="10.78" text-anchor="middle">60</text><line x1="215.34" y1="1520.60" x2="215.34" y2="1517.55" stroke="#181818" stroke-width="1.6"/><text x="256.20" y="1537.38" font-size="10.78" text-anchor="middle">70</text><line x1="256.20" y1="1520.60" x2="256.20" y2="1517.55" stroke="#181818" stroke-width="1.6"/><path d="M51.90 1290.90V1520.60H256.20" fill="none" stroke="#181818" stroke-width="1.83" stroke-linejoin="miter" stroke-linecap="square"/><text x="154.05" y="1553.86" font-size="12.66" text-anchor="middle">IRI-C Score</text><text transform="translate(20.68 1406.55) rotate(-90)" x="0" y="0" font-size="12.66" text-anchor="middle">Brain Activation</text><text x="84.59" y="1307.27" font-size="11.19" font-weight="bold">r = -0.26</text><circle cx="84.47" cy="1328.84" r="3.5"/><circle cx="113.17" cy="1398.18" r="3.5"/><circle cx="117.15" cy="1387.02" r="3.5"/><circle cx="133.29" cy="1396.99" r="3.5"/><circle cx="133.29" cy="1400.17" r="3.5"/><circle cx="137.48" cy="1383.64" r="3.5"/><circle cx="149.83" cy="1408.54" r="3.5"/><circle cx="158.00" cy="1420.90" r="3.5"/><circle cx="162.18" cy="1399.77" r="3.5"/><circle cx="170.15" cy="1428.47" r="3.5"/><circle cx="174.34" cy="1414.92" r="3.5"/><circle cx="178.32" cy="1399.38" r="3.5"/><circle cx="178.52" cy="1419.50" r="3.5"/><circle cx="182.51" cy="1394.00" r="3.5"/><circle cx="182.51" cy="1408.94" r="3.5"/><circle cx="186.49" cy="1430.86" r="3.5"/><circle cx="190.88" cy="1398.78" r="3.5"/><circle cx="190.88" cy="1406.55" r="3.5"/><circle cx="190.88" cy="1413.52" r="3.5"/><circle cx="194.86" cy="1379.85" r="3.5"/><circle cx="194.86" cy="1392.20" r="3.5"/><circle cx="203.03" cy="1398.18" r="3.5"/><circle cx="203.03" cy="1415.12" r="3.5"/><circle cx="207.02" cy="1398.18" r="3.5"/><circle cx="207.42" cy="1387.82" r="3.5"/><circle cx="211.20" cy="1412.13" r="3.5"/><circle cx="215.39" cy="1394.59" r="3.5"/><circle cx="215.39" cy="1398.58" r="3.5"/><circle cx="215.39" cy="1402.56" r="3.5"/><circle cx="227.34" cy="1370.09" r="3.5"/><circle cx="231.53" cy="1422.09" r="3.5"/><circle cx="239.69" cy="1380.05" r="3.5"/><circle cx="252.25" cy="1411.13" r="3.5"/><circle cx="252.25" cy="1412.93" r="3.5"/><line x1="84.47" y1="1383.24" x2="251.85" y2="1419.50" stroke="#b9b9b9" stroke-width="2"/></g>
<g><text x="423.35" y="1285.71" font-size="12.31" text-anchor="middle">ROI 2: rSMG</text><text x="316.02" y="1295.68" font-size="10.78" text-anchor="end">2</text><line x1="321.10" y1="1290.90" x2="324.15" y2="1290.90" stroke="#181818" stroke-width="1.6"/><text x="316.02" y="1324.39" font-size="10.78" text-anchor="end">1.5</text><line x1="321.10" y1="1319.61" x2="324.15" y2="1319.61" stroke="#181818" stroke-width="1.6"/><text x="316.02" y="1353.10" font-size="10.78" text-anchor="end">1</text><line x1="321.10" y1="1348.33" x2="324.15" y2="1348.33" stroke="#181818" stroke-width="1.6"/><text x="316.02" y="1381.82" font-size="10.78" text-anchor="end">0.5</text><line x1="321.10" y1="1377.04" x2="324.15" y2="1377.04" stroke="#181818" stroke-width="1.6"/><text x="316.02" y="1410.53" font-size="10.78" text-anchor="end">0</text><line x1="321.10" y1="1405.75" x2="324.15" y2="1405.75" stroke="#181818" stroke-width="1.6"/><text x="316.02" y="1439.24" font-size="10.78" text-anchor="end">-0.5</text><line x1="321.10" y1="1434.46" x2="324.15" y2="1434.46" stroke="#181818" stroke-width="1.6"/><text x="316.02" y="1467.95" font-size="10.78" text-anchor="end">-1</text><line x1="321.10" y1="1463.18" x2="324.15" y2="1463.18" stroke="#181818" stroke-width="1.6"/><text x="316.02" y="1496.67" font-size="10.78" text-anchor="end">-1.5</text><line x1="321.10" y1="1491.89" x2="324.15" y2="1491.89" stroke="#181818" stroke-width="1.6"/><text x="316.02" y="1525.38" font-size="10.78" text-anchor="end">-2</text><line x1="321.10" y1="1520.60" x2="324.15" y2="1520.60" stroke="#181818" stroke-width="1.6"/><text x="321.10" y="1537.38" font-size="10.78" text-anchor="middle">20</text><line x1="321.10" y1="1520.60" x2="321.10" y2="1517.55" stroke="#181818" stroke-width="1.6"/><text x="362.00" y="1537.38" font-size="10.78" text-anchor="middle">30</text><line x1="362.00" y1="1520.60" x2="362.00" y2="1517.55" stroke="#181818" stroke-width="1.6"/><text x="402.90" y="1537.38" font-size="10.78" text-anchor="middle">40</text><line x1="402.90" y1="1520.60" x2="402.90" y2="1517.55" stroke="#181818" stroke-width="1.6"/><text x="443.80" y="1537.38" font-size="10.78" text-anchor="middle">50</text><line x1="443.80" y1="1520.60" x2="443.80" y2="1517.55" stroke="#181818" stroke-width="1.6"/><text x="484.70" y="1537.38" font-size="10.78" text-anchor="middle">60</text><line x1="484.70" y1="1520.60" x2="484.70" y2="1517.55" stroke="#181818" stroke-width="1.6"/><text x="525.60" y="1537.38" font-size="10.78" text-anchor="middle">70</text><line x1="525.60" y1="1520.60" x2="525.60" y2="1517.55" stroke="#181818" stroke-width="1.6"/><path d="M321.10 1290.90V1520.60H525.60" fill="none" stroke="#181818" stroke-width="1.83" stroke-linejoin="miter" stroke-linecap="square"/><text x="423.35" y="1553.86" font-size="12.66" text-anchor="middle">IRI-C Score</text><text transform="translate(289.88 1406.55) rotate(-90)" x="0" y="0" font-size="12.66" text-anchor="middle">Brain Activation</text><text x="353.82" y="1307.27" font-size="11.19" font-weight="bold">r = -0.43</text><circle cx="353.87" cy="1291.98" r="3.5"/><circle cx="382.37" cy="1388.22" r="3.5"/><circle cx="386.75" cy="1372.28" r="3.5"/><circle cx="402.89" cy="1382.44" r="3.5"/><circle cx="402.89" cy="1393.40" r="3.5"/><circle cx="407.07" cy="1399.38" r="3.5"/><circle cx="419.23" cy="1398.98" r="3.5"/><circle cx="427.40" cy="1414.52" r="3.5"/><circle cx="431.58" cy="1388.82" r="3.5"/><circle cx="439.75" cy="1415.91" r="3.5"/><circle cx="443.94" cy="1420.50" r="3.5"/><circle cx="447.92" cy="1394.79" r="3.5"/><circle cx="447.92" cy="1426.08" r="3.5"/><circle cx="452.11" cy="1384.43" r="3.5"/><circle cx="452.11" cy="1420.90" r="3.5"/><circle cx="456.29" cy="1458.95" r="3.5"/><circle cx="460.47" cy="1383.04" r="3.5"/><circle cx="460.47" cy="1400.37" r="3.5"/><circle cx="460.47" cy="1420.50" r="3.5"/><circle cx="464.46" cy="1375.66" r="3.5"/><circle cx="464.86" cy="1379.25" r="3.5"/><circle cx="472.63" cy="1394.39" r="3.5"/><circle cx="472.63" cy="1408.54" r="3.5"/><circle cx="477.01" cy="1393.20" r="3.5"/><circle cx="477.01" cy="1409.14" r="3.5"/><circle cx="480.80" cy="1402.56" r="3.5"/><circle cx="484.98" cy="1378.65" r="3.5"/><circle cx="484.98" cy="1397.18" r="3.5"/><circle cx="484.98" cy="1405.95" r="3.5"/><circle cx="497.14" cy="1377.86" r="3.5"/><circle cx="501.12" cy="1472.50" r="3.5"/><circle cx="509.49" cy="1403.36" r="3.5"/><circle cx="521.85" cy="1400.77" r="3.5"/><circle cx="521.85" cy="1425.08" r="3.5"/><line x1="353.87" y1="1363.11" x2="521.25" y2="1429.46" stroke="#b9b9b9" stroke-width="2"/></g>
<g><text x="693.35" y="1285.71" font-size="12.31" text-anchor="middle">ROI 3: rAG</text><text x="585.91" y="1295.68" font-size="10.78" text-anchor="end">2</text><line x1="591.00" y1="1290.90" x2="594.05" y2="1290.90" stroke="#181818" stroke-width="1.6"/><text x="585.91" y="1324.39" font-size="10.78" text-anchor="end">1.5</text><line x1="591.00" y1="1319.61" x2="594.05" y2="1319.61" stroke="#181818" stroke-width="1.6"/><text x="585.91" y="1353.10" font-size="10.78" text-anchor="end">1</text><line x1="591.00" y1="1348.33" x2="594.05" y2="1348.33" stroke="#181818" stroke-width="1.6"/><text x="585.91" y="1381.82" font-size="10.78" text-anchor="end">0.5</text><line x1="591.00" y1="1377.04" x2="594.05" y2="1377.04" stroke="#181818" stroke-width="1.6"/><text x="585.91" y="1410.53" font-size="10.78" text-anchor="end">0</text><line x1="591.00" y1="1405.75" x2="594.05" y2="1405.75" stroke="#181818" stroke-width="1.6"/><text x="585.91" y="1439.24" font-size="10.78" text-anchor="end">-0.5</text><line x1="591.00" y1="1434.46" x2="594.05" y2="1434.46" stroke="#181818" stroke-width="1.6"/><text x="585.91" y="1467.95" font-size="10.78" text-anchor="end">-1</text><line x1="591.00" y1="1463.18" x2="594.05" y2="1463.18" stroke="#181818" stroke-width="1.6"/><text x="585.91" y="1496.67" font-size="10.78" text-anchor="end">-1.5</text><line x1="591.00" y1="1491.89" x2="594.05" y2="1491.89" stroke="#181818" stroke-width="1.6"/><text x="585.91" y="1525.38" font-size="10.78" text-anchor="end">-2</text><line x1="591.00" y1="1520.60" x2="594.05" y2="1520.60" stroke="#181818" stroke-width="1.6"/><text x="591.00" y="1537.38" font-size="10.78" text-anchor="middle">20</text><line x1="591.00" y1="1520.60" x2="591.00" y2="1517.55" stroke="#181818" stroke-width="1.6"/><text x="631.94" y="1537.38" font-size="10.78" text-anchor="middle">30</text><line x1="631.94" y1="1520.60" x2="631.94" y2="1517.55" stroke="#181818" stroke-width="1.6"/><text x="672.88" y="1537.38" font-size="10.78" text-anchor="middle">40</text><line x1="672.88" y1="1520.60" x2="672.88" y2="1517.55" stroke="#181818" stroke-width="1.6"/><text x="713.82" y="1537.38" font-size="10.78" text-anchor="middle">50</text><line x1="713.82" y1="1520.60" x2="713.82" y2="1517.55" stroke="#181818" stroke-width="1.6"/><text x="754.76" y="1537.38" font-size="10.78" text-anchor="middle">60</text><line x1="754.76" y1="1520.60" x2="754.76" y2="1517.55" stroke="#181818" stroke-width="1.6"/><text x="795.70" y="1537.38" font-size="10.78" text-anchor="middle">70</text><line x1="795.70" y1="1520.60" x2="795.70" y2="1517.55" stroke="#181818" stroke-width="1.6"/><path d="M591.00 1290.90V1520.60H795.70" fill="none" stroke="#181818" stroke-width="1.83" stroke-linejoin="miter" stroke-linecap="square"/><text x="693.35" y="1553.86" font-size="12.66" text-anchor="middle">IRI-C Score</text><text transform="translate(559.78 1406.55) rotate(-90)" x="0" y="0" font-size="12.66" text-anchor="middle">Brain Activation</text><text x="623.75" y="1307.27" font-size="11.19" font-weight="bold">r = -0.11</text><circle cx="623.47" cy="1387.82" r="3.5"/><circle cx="652.37" cy="1418.90" r="3.5"/><circle cx="656.55" cy="1393.60" r="3.5"/><circle cx="672.89" cy="1381.64" r="3.5"/><circle cx="672.89" cy="1400.37" r="3.5"/><circle cx="677.07" cy="1415.72" r="3.5"/><circle cx="689.23" cy="1409.34" r="3.5"/><circle cx="697.40" cy="1434.45" r="3.5"/><circle cx="701.58" cy="1389.41" r="3.5"/><circle cx="713.74" cy="1400.97" r="3.5"/><circle cx="717.92" cy="1391.21" r="3.5"/><circle cx="717.92" cy="1441.42" r="3.5"/><circle cx="721.91" cy="1376.26" r="3.5"/><circle cx="721.91" cy="1404.16" r="3.5"/><circle cx="726.09" cy="1380.45" r="3.5"/><circle cx="730.28" cy="1373.67" r="3.5"/><circle cx="730.28" cy="1377.66" r="3.5"/><circle cx="730.28" cy="1394.39" r="3.5"/><circle cx="734.26" cy="1416.91" r="3.5"/><circle cx="734.26" cy="1434.64" r="3.5"/><circle cx="742.43" cy="1394.99" r="3.5"/><circle cx="742.43" cy="1416.11" r="3.5"/><circle cx="746.61" cy="1396.99" r="3.5"/><circle cx="746.81" cy="1411.13" r="3.5"/><circle cx="746.81" cy="1453.97" r="3.5"/><circle cx="751.00" cy="1394.00" r="3.5"/><circle cx="754.98" cy="1388.42" r="3.5"/><circle cx="754.98" cy="1394.59" r="3.5"/><circle cx="754.98" cy="1398.18" r="3.5"/><circle cx="767.14" cy="1399.97" r="3.5"/><circle cx="771.12" cy="1440.02" r="3.5"/><circle cx="779.49" cy="1439.82" r="3.5"/><circle cx="791.85" cy="1382.44" r="3.5"/><circle cx="791.85" cy="1391.21" r="3.5"/><line x1="623.47" y1="1392.20" x2="791.85" y2="1405.55" stroke="#b9b9b9" stroke-width="2"/></g>
<g><text x="963.45" y="1285.71" font-size="12.31" text-anchor="middle">ROI 4: mPFC</text><text x="855.91" y="1295.68" font-size="10.78" text-anchor="end">2</text><line x1="861.00" y1="1290.90" x2="864.05" y2="1290.90" stroke="#181818" stroke-width="1.6"/><text x="855.91" y="1324.39" font-size="10.78" text-anchor="end">1.5</text><line x1="861.00" y1="1319.61" x2="864.05" y2="1319.61" stroke="#181818" stroke-width="1.6"/><text x="855.91" y="1353.10" font-size="10.78" text-anchor="end">1</text><line x1="861.00" y1="1348.33" x2="864.05" y2="1348.33" stroke="#181818" stroke-width="1.6"/><text x="855.91" y="1381.82" font-size="10.78" text-anchor="end">0.5</text><line x1="861.00" y1="1377.04" x2="864.05" y2="1377.04" stroke="#181818" stroke-width="1.6"/><text x="855.91" y="1410.53" font-size="10.78" text-anchor="end">0</text><line x1="861.00" y1="1405.75" x2="864.05" y2="1405.75" stroke="#181818" stroke-width="1.6"/><text x="855.91" y="1439.24" font-size="10.78" text-anchor="end">-0.5</text><line x1="861.00" y1="1434.46" x2="864.05" y2="1434.46" stroke="#181818" stroke-width="1.6"/><text x="855.91" y="1467.95" font-size="10.78" text-anchor="end">-1</text><line x1="861.00" y1="1463.18" x2="864.05" y2="1463.18" stroke="#181818" stroke-width="1.6"/><text x="855.91" y="1496.67" font-size="10.78" text-anchor="end">-1.5</text><line x1="861.00" y1="1491.89" x2="864.05" y2="1491.89" stroke="#181818" stroke-width="1.6"/><text x="855.91" y="1525.38" font-size="10.78" text-anchor="end">-2</text><line x1="861.00" y1="1520.60" x2="864.05" y2="1520.60" stroke="#181818" stroke-width="1.6"/><text x="861.00" y="1537.38" font-size="10.78" text-anchor="middle">20</text><line x1="861.00" y1="1520.60" x2="861.00" y2="1517.55" stroke="#181818" stroke-width="1.6"/><text x="901.98" y="1537.38" font-size="10.78" text-anchor="middle">30</text><line x1="901.98" y1="1520.60" x2="901.98" y2="1517.55" stroke="#181818" stroke-width="1.6"/><text x="942.96" y="1537.38" font-size="10.78" text-anchor="middle">40</text><line x1="942.96" y1="1520.60" x2="942.96" y2="1517.55" stroke="#181818" stroke-width="1.6"/><text x="983.94" y="1537.38" font-size="10.78" text-anchor="middle">50</text><line x1="983.94" y1="1520.60" x2="983.94" y2="1517.55" stroke="#181818" stroke-width="1.6"/><text x="1024.92" y="1537.38" font-size="10.78" text-anchor="middle">60</text><line x1="1024.92" y1="1520.60" x2="1024.92" y2="1517.55" stroke="#181818" stroke-width="1.6"/><text x="1065.90" y="1537.38" font-size="10.78" text-anchor="middle">70</text><line x1="1065.90" y1="1520.60" x2="1065.90" y2="1517.55" stroke="#181818" stroke-width="1.6"/><path d="M861.00 1290.90V1520.60H1065.90" fill="none" stroke="#181818" stroke-width="1.83" stroke-linejoin="miter" stroke-linecap="square"/><text x="963.45" y="1553.86" font-size="12.66" text-anchor="middle">IRI-C Score</text><text transform="translate(829.78 1406.55) rotate(-90)" x="0" y="0" font-size="12.66" text-anchor="middle">Brain Activation</text><text x="893.78" y="1307.27" font-size="11.19" font-weight="bold">r = -0.11</text><circle cx="893.47" cy="1398.58" r="3.5"/><circle cx="922.17" cy="1422.09" r="3.5"/><circle cx="926.35" cy="1385.03" r="3.5"/><circle cx="942.69" cy="1370.68" r="3.5"/><circle cx="942.69" cy="1393.60" r="3.5"/><circle cx="946.68" cy="1412.73" r="3.5"/><circle cx="959.03" cy="1378.26" r="3.5"/><circle cx="967.40" cy="1395.59" r="3.5"/><circle cx="971.58" cy="1390.01" r="3.5"/><circle cx="979.55" cy="1405.55" r="3.5"/><circle cx="983.74" cy="1401.17" r="3.5"/><circle cx="987.92" cy="1401.17" r="3.5"/><circle cx="987.92" cy="1419.10" r="3.5"/><circle cx="991.91" cy="1344.18" r="3.5"/><circle cx="991.91" cy="1403.16" r="3.5"/><circle cx="996.09" cy="1403.56" r="3.5"/><circle cx="1000.08" cy="1360.92" r="3.5"/><circle cx="1000.08" cy="1399.58" r="3.5"/><circle cx="1000.08" cy="1410.93" r="3.5"/><circle cx="1004.26" cy="1399.18" r="3.5"/><circle cx="1004.26" cy="1415.52" r="3.5"/><circle cx="1012.43" cy="1404.96" r="3.5"/><circle cx="1012.43" cy="1411.73" r="3.5"/><circle cx="1016.61" cy="1390.61" r="3.5"/><circle cx="1016.61" cy="1401.57" r="3.5"/><circle cx="1016.61" cy="1416.11" r="3.5"/><circle cx="1020.60" cy="1352.75" r="3.5"/><circle cx="1024.58" cy="1371.68" r="3.5"/><circle cx="1024.58" cy="1401.57" r="3.5"/><circle cx="1036.94" cy="1415.52" r="3.5"/><circle cx="1041.12" cy="1449.39" r="3.5"/><circle cx="1049.29" cy="1415.52" r="3.5"/><circle cx="1061.85" cy="1391.61" r="3.5"/><circle cx="1061.85" cy="1393.20" r="3.5"/><line x1="893.47" y1="1392.20" x2="1061.85" y2="1401.57" stroke="#b9b9b9" stroke-width="2"/></g>
<g><text x="154.05" y="1604.71" font-size="12.31" text-anchor="middle">ROI 5: lvlPFC</text><text x="46.81" y="1614.68" font-size="10.78" text-anchor="end">2</text><line x1="51.90" y1="1609.90" x2="54.95" y2="1609.90" stroke="#181818" stroke-width="1.6"/><text x="46.81" y="1643.34" font-size="10.78" text-anchor="end">1.5</text><line x1="51.90" y1="1638.56" x2="54.95" y2="1638.56" stroke="#181818" stroke-width="1.6"/><text x="46.81" y="1672.00" font-size="10.78" text-anchor="end">1</text><line x1="51.90" y1="1667.23" x2="54.95" y2="1667.23" stroke="#181818" stroke-width="1.6"/><text x="46.81" y="1700.67" font-size="10.78" text-anchor="end">0.5</text><line x1="51.90" y1="1695.89" x2="54.95" y2="1695.89" stroke="#181818" stroke-width="1.6"/><text x="46.81" y="1729.33" font-size="10.78" text-anchor="end">0</text><line x1="51.90" y1="1724.55" x2="54.95" y2="1724.55" stroke="#181818" stroke-width="1.6"/><text x="46.81" y="1757.99" font-size="10.78" text-anchor="end">-0.5</text><line x1="51.90" y1="1753.21" x2="54.95" y2="1753.21" stroke="#181818" stroke-width="1.6"/><text x="46.81" y="1786.65" font-size="10.78" text-anchor="end">-1</text><line x1="51.90" y1="1781.88" x2="54.95" y2="1781.88" stroke="#181818" stroke-width="1.6"/><text x="46.81" y="1815.32" font-size="10.78" text-anchor="end">-1.5</text><line x1="51.90" y1="1810.54" x2="54.95" y2="1810.54" stroke="#181818" stroke-width="1.6"/><text x="46.81" y="1843.98" font-size="10.78" text-anchor="end">-2</text><line x1="51.90" y1="1839.20" x2="54.95" y2="1839.20" stroke="#181818" stroke-width="1.6"/><text x="51.90" y="1855.98" font-size="10.78" text-anchor="middle">20</text><line x1="51.90" y1="1839.20" x2="51.90" y2="1836.15" stroke="#181818" stroke-width="1.6"/><text x="92.76" y="1855.98" font-size="10.78" text-anchor="middle">30</text><line x1="92.76" y1="1839.20" x2="92.76" y2="1836.15" stroke="#181818" stroke-width="1.6"/><text x="133.62" y="1855.98" font-size="10.78" text-anchor="middle">40</text><line x1="133.62" y1="1839.20" x2="133.62" y2="1836.15" stroke="#181818" stroke-width="1.6"/><text x="174.48" y="1855.98" font-size="10.78" text-anchor="middle">50</text><line x1="174.48" y1="1839.20" x2="174.48" y2="1836.15" stroke="#181818" stroke-width="1.6"/><text x="215.34" y="1855.98" font-size="10.78" text-anchor="middle">60</text><line x1="215.34" y1="1839.20" x2="215.34" y2="1836.15" stroke="#181818" stroke-width="1.6"/><text x="256.20" y="1855.98" font-size="10.78" text-anchor="middle">70</text><line x1="256.20" y1="1839.20" x2="256.20" y2="1836.15" stroke="#181818" stroke-width="1.6"/><path d="M51.90 1609.90V1839.20H256.20" fill="none" stroke="#181818" stroke-width="1.83" stroke-linejoin="miter" stroke-linecap="square"/><text x="154.05" y="1872.46" font-size="12.66" text-anchor="middle">IRI-C Score</text><text transform="translate(20.68 1725.35) rotate(-90)" x="0" y="0" font-size="12.66" text-anchor="middle">Brain Activation</text><text x="84.59" y="1626.27" font-size="11.19" font-weight="bold">r = -0.29</text><circle cx="84.47" cy="1641.26" r="3.5"/><circle cx="113.17" cy="1713.59" r="3.5"/><circle cx="117.35" cy="1714.99" r="3.5"/><circle cx="133.29" cy="1714.79" r="3.5"/><circle cx="137.48" cy="1730.13" r="3.5"/><circle cx="149.83" cy="1717.58" r="3.5"/><circle cx="158.00" cy="1732.52" r="3.5"/><circle cx="162.18" cy="1717.58" r="3.5"/><circle cx="170.15" cy="1765.20" r="3.5"/><circle cx="174.34" cy="1713.59" r="3.5"/><circle cx="178.32" cy="1717.58" r="3.5"/><circle cx="178.32" cy="1724.15" r="3.5"/><circle cx="182.51" cy="1714.79" r="3.5"/><circle cx="182.51" cy="1720.17" r="3.5"/><circle cx="186.49" cy="1753.84" r="3.5"/><circle cx="190.68" cy="1720.17" r="3.5"/><circle cx="190.68" cy="1732.52" r="3.5"/><circle cx="194.86" cy="1687.49" r="3.5"/><circle cx="194.86" cy="1718.18" r="3.5"/><circle cx="203.03" cy="1718.18" r="3.5"/><circle cx="207.02" cy="1707.62" r="3.5"/><circle cx="207.02" cy="1713.59" r="3.5"/><circle cx="211.00" cy="1768.19" r="3.5"/><circle cx="207.02" cy="1837.93" r="3.5"/><circle cx="215.19" cy="1704.63" r="3.5"/><circle cx="215.19" cy="1712.00" r="3.5"/><circle cx="215.19" cy="1726.15" r="3.5"/><circle cx="227.34" cy="1701.64" r="3.5"/><circle cx="231.53" cy="1722.96" r="3.5"/><circle cx="239.69" cy="1711.60" r="3.5"/><circle cx="251.85" cy="1727.14" r="3.5"/><circle cx="251.85" cy="1739.10" r="3.5"/><line x1="84.47" y1="1701.24" x2="251.85" y2="1736.91" stroke="#b9b9b9" stroke-width="2"/></g>
<g><text x="423.35" y="1604.71" font-size="12.31" text-anchor="middle">ROI 6: rvlPFC</text><text x="316.02" y="1614.68" font-size="10.78" text-anchor="end">2</text><line x1="321.10" y1="1609.90" x2="324.15" y2="1609.90" stroke="#181818" stroke-width="1.6"/><text x="316.02" y="1643.34" font-size="10.78" text-anchor="end">1.5</text><line x1="321.10" y1="1638.56" x2="324.15" y2="1638.56" stroke="#181818" stroke-width="1.6"/><text x="316.02" y="1672.00" font-size="10.78" text-anchor="end">1</text><line x1="321.10" y1="1667.23" x2="324.15" y2="1667.23" stroke="#181818" stroke-width="1.6"/><text x="316.02" y="1700.67" font-size="10.78" text-anchor="end">0.5</text><line x1="321.10" y1="1695.89" x2="324.15" y2="1695.89" stroke="#181818" stroke-width="1.6"/><text x="316.02" y="1729.33" font-size="10.78" text-anchor="end">0</text><line x1="321.10" y1="1724.55" x2="324.15" y2="1724.55" stroke="#181818" stroke-width="1.6"/><text x="316.02" y="1757.99" font-size="10.78" text-anchor="end">-0.5</text><line x1="321.10" y1="1753.21" x2="324.15" y2="1753.21" stroke="#181818" stroke-width="1.6"/><text x="316.02" y="1786.65" font-size="10.78" text-anchor="end">-1</text><line x1="321.10" y1="1781.88" x2="324.15" y2="1781.88" stroke="#181818" stroke-width="1.6"/><text x="316.02" y="1815.32" font-size="10.78" text-anchor="end">-1.5</text><line x1="321.10" y1="1810.54" x2="324.15" y2="1810.54" stroke="#181818" stroke-width="1.6"/><text x="316.02" y="1843.98" font-size="10.78" text-anchor="end">-2</text><line x1="321.10" y1="1839.20" x2="324.15" y2="1839.20" stroke="#181818" stroke-width="1.6"/><text x="321.10" y="1855.98" font-size="10.78" text-anchor="middle">20</text><line x1="321.10" y1="1839.20" x2="321.10" y2="1836.15" stroke="#181818" stroke-width="1.6"/><text x="362.00" y="1855.98" font-size="10.78" text-anchor="middle">30</text><line x1="362.00" y1="1839.20" x2="362.00" y2="1836.15" stroke="#181818" stroke-width="1.6"/><text x="402.90" y="1855.98" font-size="10.78" text-anchor="middle">40</text><line x1="402.90" y1="1839.20" x2="402.90" y2="1836.15" stroke="#181818" stroke-width="1.6"/><text x="443.80" y="1855.98" font-size="10.78" text-anchor="middle">50</text><line x1="443.80" y1="1839.20" x2="443.80" y2="1836.15" stroke="#181818" stroke-width="1.6"/><text x="484.70" y="1855.98" font-size="10.78" text-anchor="middle">60</text><line x1="484.70" y1="1839.20" x2="484.70" y2="1836.15" stroke="#181818" stroke-width="1.6"/><text x="525.60" y="1855.98" font-size="10.78" text-anchor="middle">70</text><line x1="525.60" y1="1839.20" x2="525.60" y2="1836.15" stroke="#181818" stroke-width="1.6"/><path d="M321.10 1609.90V1839.20H525.60" fill="none" stroke="#181818" stroke-width="1.83" stroke-linejoin="miter" stroke-linecap="square"/><text x="423.35" y="1872.46" font-size="12.66" text-anchor="middle">IRI-C Score</text><text transform="translate(289.88 1725.35) rotate(-90)" x="0" y="0" font-size="12.66" text-anchor="middle">Brain Activation</text><text x="353.82" y="1626.27" font-size="11.19" font-weight="bold">r = -0.33</text><circle cx="353.87" cy="1630.31" r="3.5"/><circle cx="382.37" cy="1687.69" r="3.5"/><circle cx="386.75" cy="1709.01" r="3.5"/><circle cx="402.89" cy="1706.22" r="3.5"/><circle cx="402.89" cy="1730.73" r="3.5"/><circle cx="407.07" cy="1663.98" r="3.5"/><circle cx="419.23" cy="1726.15" r="3.5"/><circle cx="427.40" cy="1776.76" r="3.5"/><circle cx="431.58" cy="1703.83" r="3.5"/><circle cx="439.75" cy="1743.68" r="3.5"/><circle cx="443.94" cy="1702.24" r="3.5"/><circle cx="447.92" cy="1720.97" r="3.5"/><circle cx="447.92" cy="1727.94" r="3.5"/><circle cx="452.11" cy="1708.81" r="3.5"/><circle cx="452.11" cy="1754.84" r="3.5"/><circle cx="456.29" cy="1754.04" r="3.5"/><circle cx="460.47" cy="1712.80" r="3.5"/><circle cx="460.47" cy="1729.53" r="3.5"/><circle cx="460.47" cy="1735.71" r="3.5"/><circle cx="464.46" cy="1698.65" r="3.5"/><circle cx="464.46" cy="1727.54" r="3.5"/><circle cx="472.63" cy="1651.23" r="3.5"/><circle cx="472.63" cy="1713.59" r="3.5"/><circle cx="476.81" cy="1682.11" r="3.5"/><circle cx="476.81" cy="1699.65" r="3.5"/><circle cx="476.81" cy="1796.68" r="3.5"/><circle cx="480.80" cy="1763.41" r="3.5"/><circle cx="484.98" cy="1701.24" r="3.5"/><circle cx="484.98" cy="1719.17" r="3.5"/><circle cx="484.98" cy="1724.55" r="3.5"/><circle cx="497.14" cy="1710.80" r="3.5"/><circle cx="501.12" cy="1726.55" r="3.5"/><circle cx="509.49" cy="1691.88" r="3.5"/><circle cx="521.85" cy="1722.96" r="3.5"/><circle cx="521.85" cy="1770.18" r="3.5"/><line x1="353.87" y1="1689.09" x2="521.85" y2="1736.91" stroke="#b9b9b9" stroke-width="2"/></g>
<g><text x="693.35" y="1604.71" font-size="12.31" text-anchor="middle">ROI 7: lDLPFC</text><text x="585.91" y="1614.68" font-size="10.78" text-anchor="end">2</text><line x1="591.00" y1="1609.90" x2="594.05" y2="1609.90" stroke="#181818" stroke-width="1.6"/><text x="585.91" y="1643.34" font-size="10.78" text-anchor="end">1.5</text><line x1="591.00" y1="1638.56" x2="594.05" y2="1638.56" stroke="#181818" stroke-width="1.6"/><text x="585.91" y="1672.00" font-size="10.78" text-anchor="end">1</text><line x1="591.00" y1="1667.23" x2="594.05" y2="1667.23" stroke="#181818" stroke-width="1.6"/><text x="585.91" y="1700.67" font-size="10.78" text-anchor="end">0.5</text><line x1="591.00" y1="1695.89" x2="594.05" y2="1695.89" stroke="#181818" stroke-width="1.6"/><text x="585.91" y="1729.33" font-size="10.78" text-anchor="end">0</text><line x1="591.00" y1="1724.55" x2="594.05" y2="1724.55" stroke="#181818" stroke-width="1.6"/><text x="585.91" y="1757.99" font-size="10.78" text-anchor="end">-0.5</text><line x1="591.00" y1="1753.21" x2="594.05" y2="1753.21" stroke="#181818" stroke-width="1.6"/><text x="585.91" y="1786.65" font-size="10.78" text-anchor="end">-1</text><line x1="591.00" y1="1781.88" x2="594.05" y2="1781.88" stroke="#181818" stroke-width="1.6"/><text x="585.91" y="1815.32" font-size="10.78" text-anchor="end">-1.5</text><line x1="591.00" y1="1810.54" x2="594.05" y2="1810.54" stroke="#181818" stroke-width="1.6"/><text x="585.91" y="1843.98" font-size="10.78" text-anchor="end">-2</text><line x1="591.00" y1="1839.20" x2="594.05" y2="1839.20" stroke="#181818" stroke-width="1.6"/><text x="591.00" y="1855.98" font-size="10.78" text-anchor="middle">20</text><line x1="591.00" y1="1839.20" x2="591.00" y2="1836.15" stroke="#181818" stroke-width="1.6"/><text x="631.94" y="1855.98" font-size="10.78" text-anchor="middle">30</text><line x1="631.94" y1="1839.20" x2="631.94" y2="1836.15" stroke="#181818" stroke-width="1.6"/><text x="672.88" y="1855.98" font-size="10.78" text-anchor="middle">40</text><line x1="672.88" y1="1839.20" x2="672.88" y2="1836.15" stroke="#181818" stroke-width="1.6"/><text x="713.82" y="1855.98" font-size="10.78" text-anchor="middle">50</text><line x1="713.82" y1="1839.20" x2="713.82" y2="1836.15" stroke="#181818" stroke-width="1.6"/><text x="754.76" y="1855.98" font-size="10.78" text-anchor="middle">60</text><line x1="754.76" y1="1839.20" x2="754.76" y2="1836.15" stroke="#181818" stroke-width="1.6"/><text x="795.70" y="1855.98" font-size="10.78" text-anchor="middle">70</text><line x1="795.70" y1="1839.20" x2="795.70" y2="1836.15" stroke="#181818" stroke-width="1.6"/><path d="M591.00 1609.90V1839.20H795.70" fill="none" stroke="#181818" stroke-width="1.83" stroke-linejoin="miter" stroke-linecap="square"/><text x="693.35" y="1872.46" font-size="12.66" text-anchor="middle">IRI-C Score</text><text transform="translate(559.78 1725.35) rotate(-90)" x="0" y="0" font-size="12.66" text-anchor="middle">Brain Activation</text><text x="623.75" y="1626.27" font-size="11.19" font-weight="bold">r = -0.39</text><circle cx="623.47" cy="1636.28" r="3.5"/><circle cx="652.37" cy="1723.56" r="3.5"/><circle cx="656.55" cy="1713.59" r="3.5"/><circle cx="672.89" cy="1708.81" r="3.5"/><circle cx="672.89" cy="1718.97" r="3.5"/><circle cx="677.07" cy="1730.13" r="3.5"/><circle cx="689.23" cy="1716.38" r="3.5"/><circle cx="697.40" cy="1727.14" r="3.5"/><circle cx="701.58" cy="1712.20" r="3.5"/><circle cx="709.75" cy="1721.96" r="3.5"/><circle cx="713.74" cy="1707.02" r="3.5"/><circle cx="717.92" cy="1714.79" r="3.5"/><circle cx="717.92" cy="1729.93" r="3.5"/><circle cx="721.91" cy="1700.44" r="3.5"/><circle cx="721.91" cy="1737.50" r="3.5"/><circle cx="726.09" cy="1744.48" r="3.5"/><circle cx="730.28" cy="1715.59" r="3.5"/><circle cx="730.28" cy="1727.94" r="3.5"/><circle cx="730.28" cy="1736.51" r="3.5"/><circle cx="734.26" cy="1712.20" r="3.5"/><circle cx="734.26" cy="1722.16" r="3.5"/><circle cx="742.43" cy="1726.15" r="3.5"/><circle cx="746.81" cy="1724.55" r="3.5"/><circle cx="746.81" cy="1773.77" r="3.5"/><circle cx="750.80" cy="1692.07" r="3.5"/><circle cx="754.98" cy="1704.63" r="3.5"/><circle cx="754.98" cy="1712.60" r="3.5"/><circle cx="754.98" cy="1718.38" r="3.5"/><circle cx="767.14" cy="1725.75" r="3.5"/><circle cx="771.12" cy="1742.29" r="3.5"/><circle cx="779.49" cy="1721.17" r="3.5"/><circle cx="791.85" cy="1718.58" r="3.5"/><circle cx="791.85" cy="1721.17" r="3.5"/><line x1="623.87" y1="1699.45" x2="791.85" y2="1733.12" stroke="#b9b9b9" stroke-width="2"/></g>
<g><text x="963.45" y="1604.71" font-size="12.31" text-anchor="middle">ROI 8: rDLPFC</text><text x="855.91" y="1614.68" font-size="10.78" text-anchor="end">2</text><line x1="861.00" y1="1609.90" x2="864.05" y2="1609.90" stroke="#181818" stroke-width="1.6"/><text x="855.91" y="1643.34" font-size="10.78" text-anchor="end">1.5</text><line x1="861.00" y1="1638.56" x2="864.05" y2="1638.56" stroke="#181818" stroke-width="1.6"/><text x="855.91" y="1672.00" font-size="10.78" text-anchor="end">1</text><line x1="861.00" y1="1667.23" x2="864.05" y2="1667.23" stroke="#181818" stroke-width="1.6"/><text x="855.91" y="1700.67" font-size="10.78" text-anchor="end">0.5</text><line x1="861.00" y1="1695.89" x2="864.05" y2="1695.89" stroke="#181818" stroke-width="1.6"/><text x="855.91" y="1729.33" font-size="10.78" text-anchor="end">0</text><line x1="861.00" y1="1724.55" x2="864.05" y2="1724.55" stroke="#181818" stroke-width="1.6"/><text x="855.91" y="1757.99" font-size="10.78" text-anchor="end">-0.5</text><line x1="861.00" y1="1753.21" x2="864.05" y2="1753.21" stroke="#181818" stroke-width="1.6"/><text x="855.91" y="1786.65" font-size="10.78" text-anchor="end">-1</text><line x1="861.00" y1="1781.88" x2="864.05" y2="1781.88" stroke="#181818" stroke-width="1.6"/><text x="855.91" y="1815.32" font-size="10.78" text-anchor="end">-1.5</text><line x1="861.00" y1="1810.54" x2="864.05" y2="1810.54" stroke="#181818" stroke-width="1.6"/><text x="855.91" y="1843.98" font-size="10.78" text-anchor="end">-2</text><line x1="861.00" y1="1839.20" x2="864.05" y2="1839.20" stroke="#181818" stroke-width="1.6"/><text x="861.00" y="1855.98" font-size="10.78" text-anchor="middle">20</text><line x1="861.00" y1="1839.20" x2="861.00" y2="1836.15" stroke="#181818" stroke-width="1.6"/><text x="901.98" y="1855.98" font-size="10.78" text-anchor="middle">30</text><line x1="901.98" y1="1839.20" x2="901.98" y2="1836.15" stroke="#181818" stroke-width="1.6"/><text x="942.96" y="1855.98" font-size="10.78" text-anchor="middle">40</text><line x1="942.96" y1="1839.20" x2="942.96" y2="1836.15" stroke="#181818" stroke-width="1.6"/><text x="983.94" y="1855.98" font-size="10.78" text-anchor="middle">50</text><line x1="983.94" y1="1839.20" x2="983.94" y2="1836.15" stroke="#181818" stroke-width="1.6"/><text x="1024.92" y="1855.98" font-size="10.78" text-anchor="middle">60</text><line x1="1024.92" y1="1839.20" x2="1024.92" y2="1836.15" stroke="#181818" stroke-width="1.6"/><text x="1065.90" y="1855.98" font-size="10.78" text-anchor="middle">70</text><line x1="1065.90" y1="1839.20" x2="1065.90" y2="1836.15" stroke="#181818" stroke-width="1.6"/><path d="M861.00 1609.90V1839.20H1065.90" fill="none" stroke="#181818" stroke-width="1.83" stroke-linejoin="miter" stroke-linecap="square"/><text x="963.45" y="1872.46" font-size="12.66" text-anchor="middle">IRI-C Score</text><text transform="translate(829.78 1725.35) rotate(-90)" x="0" y="0" font-size="12.66" text-anchor="middle">Brain Activation</text><text x="893.78" y="1626.27" font-size="11.19" font-weight="bold">r = -0.31</text><circle cx="893.47" cy="1671.95" r="3.5"/><circle cx="922.17" cy="1716.18" r="3.5"/><circle cx="926.35" cy="1704.63" r="3.5"/><circle cx="942.69" cy="1706.62" r="3.5"/><circle cx="942.69" cy="1723.76" r="3.5"/><circle cx="946.88" cy="1703.63" r="3.5"/><circle cx="959.03" cy="1726.94" r="3.5"/><circle cx="967.40" cy="1713.59" r="3.5"/><circle cx="971.58" cy="1714.59" r="3.5"/><circle cx="979.55" cy="1769.19" r="3.5"/><circle cx="983.74" cy="1720.17" r="3.5"/><circle cx="987.92" cy="1721.17" r="3.5"/><circle cx="987.92" cy="1734.91" r="3.5"/><circle cx="991.91" cy="1708.01" r="3.5"/><circle cx="991.91" cy="1733.52" r="3.5"/><circle cx="996.09" cy="1740.09" r="3.5"/><circle cx="1000.08" cy="1712.60" r="3.5"/><circle cx="1000.08" cy="1718.58" r="3.5"/><circle cx="1000.08" cy="1725.95" r="3.5"/><circle cx="1004.26" cy="1714.19" r="3.5"/><circle cx="1004.26" cy="1720.57" r="3.5"/><circle cx="1012.43" cy="1693.87" r="3.5"/><circle cx="1012.43" cy="1720.57" r="3.5"/><circle cx="1016.61" cy="1719.17" r="3.5"/><circle cx="1016.61" cy="1723.16" r="3.5"/><circle cx="1016.61" cy="1739.30" r="3.5"/><circle cx="1020.60" cy="1725.55" r="3.5"/><circle cx="1024.58" cy="1705.03" r="3.5"/><circle cx="1024.58" cy="1721.96" r="3.5"/><circle cx="1024.58" cy="1732.92" r="3.5"/><circle cx="1036.94" cy="1714.39" r="3.5"/><circle cx="1041.12" cy="1732.12" r="3.5"/><circle cx="1049.29" cy="1694.07" r="3.5"/><circle cx="1061.85" cy="1723.56" r="3.5"/><circle cx="1061.85" cy="1731.13" r="3.5"/><line x1="893.47" y1="1706.62" x2="1061.85" y2="1727.94" stroke="#b9b9b9" stroke-width="2"/></g>
<text x="1.0" y="1897.6" font-size="18.31" font-weight="bold" fill="#000">D</text>
<g><text x="153.70" y="1913.11" font-size="12.31" text-anchor="middle">ROI 1: rSTG</text><text x="46.41" y="1923.08" font-size="10.78" text-anchor="end">2</text><line x1="51.50" y1="1918.30" x2="54.55" y2="1918.30" stroke="#181818" stroke-width="1.6"/><text x="46.41" y="1951.77" font-size="10.78" text-anchor="end">1.5</text><line x1="51.50" y1="1946.99" x2="54.55" y2="1946.99" stroke="#181818" stroke-width="1.6"/><text x="46.41" y="1980.45" font-size="10.78" text-anchor="end">1</text><line x1="51.50" y1="1975.67" x2="54.55" y2="1975.67" stroke="#181818" stroke-width="1.6"/><text x="46.41" y="2009.14" font-size="10.78" text-anchor="end">0.5</text><line x1="51.50" y1="2004.36" x2="54.55" y2="2004.36" stroke="#181818" stroke-width="1.6"/><text x="46.41" y="2037.83" font-size="10.78" text-anchor="end">0</text><line x1="51.50" y1="2033.05" x2="54.55" y2="2033.05" stroke="#181818" stroke-width="1.6"/><text x="46.41" y="2066.52" font-size="10.78" text-anchor="end">-0.5</text><line x1="51.50" y1="2061.74" x2="54.55" y2="2061.74" stroke="#181818" stroke-width="1.6"/><text x="46.41" y="2095.20" font-size="10.78" text-anchor="end">-1</text><line x1="51.50" y1="2090.43" x2="54.55" y2="2090.43" stroke="#181818" stroke-width="1.6"/><text x="46.41" y="2123.89" font-size="10.78" text-anchor="end">-1.5</text><line x1="51.50" y1="2119.11" x2="54.55" y2="2119.11" stroke="#181818" stroke-width="1.6"/><text x="46.41" y="2152.58" font-size="10.78" text-anchor="end">-2</text><line x1="51.50" y1="2147.80" x2="54.55" y2="2147.80" stroke="#181818" stroke-width="1.6"/><text x="51.50" y="2164.58" font-size="10.78" text-anchor="middle">10</text><line x1="51.50" y1="2147.80" x2="51.50" y2="2144.75" stroke="#181818" stroke-width="1.6"/><text x="102.60" y="2164.58" font-size="10.78" text-anchor="middle">15</text><line x1="102.60" y1="2147.80" x2="102.60" y2="2144.75" stroke="#181818" stroke-width="1.6"/><text x="153.70" y="2164.58" font-size="10.78" text-anchor="middle">20</text><line x1="153.70" y1="2147.80" x2="153.70" y2="2144.75" stroke="#181818" stroke-width="1.6"/><text x="204.80" y="2164.58" font-size="10.78" text-anchor="middle">25</text><line x1="204.80" y1="2147.80" x2="204.80" y2="2144.75" stroke="#181818" stroke-width="1.6"/><text x="255.90" y="2164.58" font-size="10.78" text-anchor="middle">30</text><line x1="255.90" y1="2147.80" x2="255.90" y2="2144.75" stroke="#181818" stroke-width="1.6"/><path d="M51.50 1918.30V2147.80H255.90" fill="none" stroke="#181818" stroke-width="1.83" stroke-linejoin="miter" stroke-linecap="square"/><text x="153.70" y="2181.06" font-size="12.66" text-anchor="middle">RSQ Score</text><text transform="translate(20.28 2033.85) rotate(-90)" x="0" y="0" font-size="12.66" text-anchor="middle">Brain Activation</text><text x="72.96" y="1934.67" font-size="11.19" font-weight="bold">r = 0.06</text><circle cx="72.52" cy="2025.18" r="3.5"/><circle cx="76.90" cy="2058.06" r="3.5"/><circle cx="81.29" cy="2026.58" r="3.5"/><circle cx="91.25" cy="1956.04" r="3.5"/><circle cx="109.18" cy="1997.28" r="3.5"/><circle cx="110.18" cy="2014.62" r="3.5"/><circle cx="111.77" cy="2029.56" r="3.5"/><circle cx="114.36" cy="2027.37" r="3.5"/><circle cx="118.95" cy="2048.09" r="3.5"/><circle cx="121.74" cy="2025.38" r="3.5"/><circle cx="129.71" cy="2046.90" r="3.5"/><circle cx="130.70" cy="2040.12" r="3.5"/><circle cx="130.70" cy="2049.29" r="3.5"/><circle cx="138.27" cy="2034.15" r="3.5"/><circle cx="140.07" cy="2010.83" r="3.5"/><circle cx="143.26" cy="2055.67" r="3.5"/><circle cx="147.24" cy="2025.58" r="3.5"/><circle cx="150.63" cy="2042.52" r="3.5"/><circle cx="153.02" cy="2036.14" r="3.5"/><circle cx="155.01" cy="2038.93" r="3.5"/><circle cx="167.96" cy="2015.02" r="3.5"/><circle cx="168.56" cy="2025.58" r="3.5"/><circle cx="172.35" cy="2039.73" r="3.5"/><circle cx="174.94" cy="2036.54" r="3.5"/><circle cx="178.52" cy="2026.97" r="3.5"/><circle cx="181.51" cy="2019.40" r="3.5"/><circle cx="191.08" cy="2021.20" r="3.5"/><circle cx="192.67" cy="2040.92" r="3.5"/><circle cx="197.45" cy="2021.00" r="3.5"/><circle cx="200.04" cy="2025.98" r="3.5"/><circle cx="214.19" cy="2007.05" r="3.5"/><circle cx="220.57" cy="2024.18" r="3.5"/><circle cx="220.96" cy="2042.32" r="3.5"/><circle cx="226.74" cy="2007.05" r="3.5"/><line x1="52.99" y1="2036.94" x2="255.83" y2="2027.17" stroke="#b9b9b9" stroke-width="2"/></g>
<g><text x="423.25" y="1913.11" font-size="12.31" text-anchor="middle">ROI 2: rSMG</text><text x="315.81" y="1923.08" font-size="10.78" text-anchor="end">2</text><line x1="320.90" y1="1918.30" x2="323.95" y2="1918.30" stroke="#181818" stroke-width="1.6"/><text x="315.81" y="1951.77" font-size="10.78" text-anchor="end">1.5</text><line x1="320.90" y1="1946.99" x2="323.95" y2="1946.99" stroke="#181818" stroke-width="1.6"/><text x="315.81" y="1980.45" font-size="10.78" text-anchor="end">1</text><line x1="320.90" y1="1975.67" x2="323.95" y2="1975.67" stroke="#181818" stroke-width="1.6"/><text x="315.81" y="2009.14" font-size="10.78" text-anchor="end">0.5</text><line x1="320.90" y1="2004.36" x2="323.95" y2="2004.36" stroke="#181818" stroke-width="1.6"/><text x="315.81" y="2037.83" font-size="10.78" text-anchor="end">0</text><line x1="320.90" y1="2033.05" x2="323.95" y2="2033.05" stroke="#181818" stroke-width="1.6"/><text x="315.81" y="2066.52" font-size="10.78" text-anchor="end">-0.5</text><line x1="320.90" y1="2061.74" x2="323.95" y2="2061.74" stroke="#181818" stroke-width="1.6"/><text x="315.81" y="2095.20" font-size="10.78" text-anchor="end">-1</text><line x1="320.90" y1="2090.43" x2="323.95" y2="2090.43" stroke="#181818" stroke-width="1.6"/><text x="315.81" y="2123.89" font-size="10.78" text-anchor="end">-1.5</text><line x1="320.90" y1="2119.11" x2="323.95" y2="2119.11" stroke="#181818" stroke-width="1.6"/><text x="315.81" y="2152.58" font-size="10.78" text-anchor="end">-2</text><line x1="320.90" y1="2147.80" x2="323.95" y2="2147.80" stroke="#181818" stroke-width="1.6"/><text x="320.90" y="2164.58" font-size="10.78" text-anchor="middle">10</text><line x1="320.90" y1="2147.80" x2="320.90" y2="2144.75" stroke="#181818" stroke-width="1.6"/><text x="372.07" y="2164.58" font-size="10.78" text-anchor="middle">15</text><line x1="372.07" y1="2147.80" x2="372.07" y2="2144.75" stroke="#181818" stroke-width="1.6"/><text x="423.25" y="2164.58" font-size="10.78" text-anchor="middle">20</text><line x1="423.25" y1="2147.80" x2="423.25" y2="2144.75" stroke="#181818" stroke-width="1.6"/><text x="474.42" y="2164.58" font-size="10.78" text-anchor="middle">25</text><line x1="474.42" y1="2147.80" x2="474.42" y2="2144.75" stroke="#181818" stroke-width="1.6"/><text x="525.60" y="2164.58" font-size="10.78" text-anchor="middle">30</text><line x1="525.60" y1="2147.80" x2="525.60" y2="2144.75" stroke="#181818" stroke-width="1.6"/><path d="M320.90 1918.30V2147.80H525.60" fill="none" stroke="#181818" stroke-width="1.83" stroke-linejoin="miter" stroke-linecap="square"/><text x="423.25" y="2181.06" font-size="12.66" text-anchor="middle">RSQ Score</text><text transform="translate(289.68 2033.85) rotate(-90)" x="0" y="0" font-size="12.66" text-anchor="middle">Brain Activation</text><text x="342.39" y="1934.67" font-size="11.19" font-weight="bold">r = 0.02</text><circle cx="341.52" cy="2015.42" r="3.5"/><circle cx="346.10" cy="2086.35" r="3.5"/><circle cx="350.69" cy="2021.99" r="3.5"/><circle cx="360.45" cy="1919.38" r="3.5"/><circle cx="379.78" cy="1999.68" r="3.5"/><circle cx="378.38" cy="2005.06" r="3.5"/><circle cx="381.37" cy="2006.05" r="3.5"/><circle cx="383.76" cy="2009.64" r="3.5"/><circle cx="388.34" cy="2041.92" r="3.5"/><circle cx="391.33" cy="2021.59" r="3.5"/><circle cx="398.31" cy="2053.08" r="3.5"/><circle cx="400.70" cy="2052.48" r="3.5"/><circle cx="400.30" cy="2099.70" r="3.5"/><circle cx="407.67" cy="2027.37" r="3.5"/><circle cx="409.66" cy="2026.58" r="3.5"/><circle cx="412.85" cy="2043.31" r="3.5"/><circle cx="416.84" cy="2033.15" r="3.5"/><circle cx="420.23" cy="2047.70" r="3.5"/><circle cx="422.62" cy="2025.98" r="3.5"/><circle cx="424.61" cy="2027.97" r="3.5"/><circle cx="437.56" cy="2020.60" r="3.5"/><circle cx="437.56" cy="2036.54" r="3.5"/><circle cx="442.14" cy="2029.96" r="3.5"/><circle cx="444.73" cy="2048.09" r="3.5"/><circle cx="448.32" cy="2016.21" r="3.5"/><circle cx="450.91" cy="2002.66" r="3.5"/><circle cx="460.67" cy="2024.38" r="3.5"/><circle cx="462.27" cy="2047.70" r="3.5"/><circle cx="467.05" cy="2011.63" r="3.5"/><circle cx="470.04" cy="2010.44" r="3.5"/><circle cx="483.99" cy="2030.56" r="3.5"/><circle cx="490.36" cy="2020.60" r="3.5"/><circle cx="490.76" cy="2036.14" r="3.5"/><circle cx="496.74" cy="2006.65" r="3.5"/><line x1="321.99" y1="2032.15" x2="525.63" y2="2028.57" stroke="#b9b9b9" stroke-width="2"/></g>
<g><text x="693.10" y="1913.11" font-size="12.31" text-anchor="middle">ROI 3: rAG</text><text x="585.51" y="1923.08" font-size="10.78" text-anchor="end">2</text><line x1="590.60" y1="1918.30" x2="593.65" y2="1918.30" stroke="#181818" stroke-width="1.6"/><text x="585.51" y="1951.77" font-size="10.78" text-anchor="end">1.5</text><line x1="590.60" y1="1946.99" x2="593.65" y2="1946.99" stroke="#181818" stroke-width="1.6"/><text x="585.51" y="1980.45" font-size="10.78" text-anchor="end">1</text><line x1="590.60" y1="1975.67" x2="593.65" y2="1975.67" stroke="#181818" stroke-width="1.6"/><text x="585.51" y="2009.14" font-size="10.78" text-anchor="end">0.5</text><line x1="590.60" y1="2004.36" x2="593.65" y2="2004.36" stroke="#181818" stroke-width="1.6"/><text x="585.51" y="2037.83" font-size="10.78" text-anchor="end">0</text><line x1="590.60" y1="2033.05" x2="593.65" y2="2033.05" stroke="#181818" stroke-width="1.6"/><text x="585.51" y="2066.52" font-size="10.78" text-anchor="end">-0.5</text><line x1="590.60" y1="2061.74" x2="593.65" y2="2061.74" stroke="#181818" stroke-width="1.6"/><text x="585.51" y="2095.20" font-size="10.78" text-anchor="end">-1</text><line x1="590.60" y1="2090.43" x2="593.65" y2="2090.43" stroke="#181818" stroke-width="1.6"/><text x="585.51" y="2123.89" font-size="10.78" text-anchor="end">-1.5</text><line x1="590.60" y1="2119.11" x2="593.65" y2="2119.11" stroke="#181818" stroke-width="1.6"/><text x="585.51" y="2152.58" font-size="10.78" text-anchor="end">-2</text><line x1="590.60" y1="2147.80" x2="593.65" y2="2147.80" stroke="#181818" stroke-width="1.6"/><text x="590.60" y="2164.58" font-size="10.78" text-anchor="middle">10</text><line x1="590.60" y1="2147.80" x2="590.60" y2="2144.75" stroke="#181818" stroke-width="1.6"/><text x="641.85" y="2164.58" font-size="10.78" text-anchor="middle">15</text><line x1="641.85" y1="2147.80" x2="641.85" y2="2144.75" stroke="#181818" stroke-width="1.6"/><text x="693.10" y="2164.58" font-size="10.78" text-anchor="middle">20</text><line x1="693.10" y1="2147.80" x2="693.10" y2="2144.75" stroke="#181818" stroke-width="1.6"/><text x="744.35" y="2164.58" font-size="10.78" text-anchor="middle">25</text><line x1="744.35" y1="2147.80" x2="744.35" y2="2144.75" stroke="#181818" stroke-width="1.6"/><text x="795.60" y="2164.58" font-size="10.78" text-anchor="middle">30</text><line x1="795.60" y1="2147.80" x2="795.60" y2="2144.75" stroke="#181818" stroke-width="1.6"/><path d="M590.60 1918.30V2147.80H795.60" fill="none" stroke="#181818" stroke-width="1.83" stroke-linejoin="miter" stroke-linecap="square"/><text x="693.10" y="2181.06" font-size="12.66" text-anchor="middle">RSQ Score</text><text transform="translate(559.38 2033.85) rotate(-90)" x="0" y="0" font-size="12.66" text-anchor="middle">Brain Activation</text><text x="612.12" y="1934.67" font-size="11.19" font-weight="bold">r = -0.02</text><circle cx="611.52" cy="2046.10" r="3.5"/><circle cx="616.10" cy="2007.65" r="3.5"/><circle cx="620.69" cy="2018.61" r="3.5"/><circle cx="630.45" cy="2015.02" r="3.5"/><circle cx="648.38" cy="2027.77" r="3.5"/><circle cx="649.38" cy="2020.80" r="3.5"/><circle cx="650.97" cy="2015.82" r="3.5"/><circle cx="653.76" cy="2027.77" r="3.5"/><circle cx="658.34" cy="2061.64" r="3.5"/><circle cx="661.13" cy="2022.19" r="3.5"/><circle cx="668.71" cy="2068.62" r="3.5"/><circle cx="670.70" cy="2067.42" r="3.5"/><circle cx="670.10" cy="2018.61" r="3.5"/><circle cx="671.30" cy="2081.17" r="3.5"/><circle cx="677.67" cy="2021.59" r="3.5"/><circle cx="679.66" cy="2043.11" r="3.5"/><circle cx="687.04" cy="2025.58" r="3.5"/><circle cx="690.23" cy="2028.57" r="3.5"/><circle cx="692.62" cy="2036.54" r="3.5"/><circle cx="694.61" cy="2009.64" r="3.5"/><circle cx="707.56" cy="2038.13" r="3.5"/><circle cx="707.96" cy="2024.18" r="3.5"/><circle cx="711.94" cy="2021.20" r="3.5"/><circle cx="714.73" cy="2031.36" r="3.5"/><circle cx="718.32" cy="2016.61" r="3.5"/><circle cx="720.91" cy="2044.31" r="3.5"/><circle cx="730.67" cy="2021.79" r="3.5"/><circle cx="732.27" cy="2001.07" r="3.5"/><circle cx="737.45" cy="2003.66" r="3.5"/><circle cx="740.04" cy="2005.26" r="3.5"/><circle cx="753.99" cy="2067.02" r="3.5"/><circle cx="760.36" cy="2008.84" r="3.5"/><circle cx="760.76" cy="2043.51" r="3.5"/><circle cx="766.74" cy="2061.84" r="3.5"/><line x1="591.99" y1="2026.18" x2="795.63" y2="2029.17" stroke="#b9b9b9" stroke-width="2"/></g>
<g><text x="962.90" y="1913.11" font-size="12.31" text-anchor="middle">ROI 4: mPFC</text><text x="855.12" y="1923.08" font-size="10.78" text-anchor="end">2</text><line x1="860.20" y1="1918.30" x2="863.25" y2="1918.30" stroke="#181818" stroke-width="1.6"/><text x="855.12" y="1951.77" font-size="10.78" text-anchor="end">1.5</text><line x1="860.20" y1="1946.99" x2="863.25" y2="1946.99" stroke="#181818" stroke-width="1.6"/><text x="855.12" y="1980.45" font-size="10.78" text-anchor="end">1</text><line x1="860.20" y1="1975.67" x2="863.25" y2="1975.67" stroke="#181818" stroke-width="1.6"/><text x="855.12" y="2009.14" font-size="10.78" text-anchor="end">0.5</text><line x1="860.20" y1="2004.36" x2="863.25" y2="2004.36" stroke="#181818" stroke-width="1.6"/><text x="855.12" y="2037.83" font-size="10.78" text-anchor="end">0</text><line x1="860.20" y1="2033.05" x2="863.25" y2="2033.05" stroke="#181818" stroke-width="1.6"/><text x="855.12" y="2066.52" font-size="10.78" text-anchor="end">-0.5</text><line x1="860.20" y1="2061.74" x2="863.25" y2="2061.74" stroke="#181818" stroke-width="1.6"/><text x="855.12" y="2095.20" font-size="10.78" text-anchor="end">-1</text><line x1="860.20" y1="2090.43" x2="863.25" y2="2090.43" stroke="#181818" stroke-width="1.6"/><text x="855.12" y="2123.89" font-size="10.78" text-anchor="end">-1.5</text><line x1="860.20" y1="2119.11" x2="863.25" y2="2119.11" stroke="#181818" stroke-width="1.6"/><text x="855.12" y="2152.58" font-size="10.78" text-anchor="end">-2</text><line x1="860.20" y1="2147.80" x2="863.25" y2="2147.80" stroke="#181818" stroke-width="1.6"/><text x="860.20" y="2164.58" font-size="10.78" text-anchor="middle">10</text><line x1="860.20" y1="2147.80" x2="860.20" y2="2144.75" stroke="#181818" stroke-width="1.6"/><text x="911.55" y="2164.58" font-size="10.78" text-anchor="middle">15</text><line x1="911.55" y1="2147.80" x2="911.55" y2="2144.75" stroke="#181818" stroke-width="1.6"/><text x="962.90" y="2164.58" font-size="10.78" text-anchor="middle">20</text><line x1="962.90" y1="2147.80" x2="962.90" y2="2144.75" stroke="#181818" stroke-width="1.6"/><text x="1014.25" y="2164.58" font-size="10.78" text-anchor="middle">25</text><line x1="1014.25" y1="2147.80" x2="1014.25" y2="2144.75" stroke="#181818" stroke-width="1.6"/><text x="1065.60" y="2164.58" font-size="10.78" text-anchor="middle">30</text><line x1="1065.60" y1="2147.80" x2="1065.60" y2="2144.75" stroke="#181818" stroke-width="1.6"/><path d="M860.20 1918.30V2147.80H1065.60" fill="none" stroke="#181818" stroke-width="1.83" stroke-linejoin="miter" stroke-linecap="square"/><text x="962.90" y="2181.06" font-size="12.66" text-anchor="middle">RSQ Score</text><text transform="translate(828.98 2033.85) rotate(-90)" x="0" y="0" font-size="12.66" text-anchor="middle">Brain Activation</text><text x="881.77" y="1934.67" font-size="11.19" font-weight="bold">r = 0.32</text><circle cx="881.52" cy="2049.49" r="3.5"/><circle cx="886.10" cy="2030.96" r="3.5"/><circle cx="890.68" cy="2028.77" r="3.5"/><circle cx="900.25" cy="2025.78" r="3.5"/><circle cx="918.38" cy="2042.91" r="3.5"/><circle cx="919.77" cy="2012.23" r="3.5"/><circle cx="920.77" cy="2028.17" r="3.5"/><circle cx="923.76" cy="2020.80" r="3.5"/><circle cx="928.34" cy="2022.79" r="3.5"/><circle cx="931.13" cy="2032.15" r="3.5"/><circle cx="938.30" cy="2046.50" r="3.5"/><circle cx="940.10" cy="2019.20" r="3.5"/><circle cx="941.09" cy="2043.31" r="3.5"/><circle cx="940.10" cy="2076.59" r="3.5"/><circle cx="947.67" cy="2038.13" r="3.5"/><circle cx="949.66" cy="2040.12" r="3.5"/><circle cx="952.65" cy="2032.75" r="3.5"/><circle cx="956.64" cy="1998.88" r="3.5"/><circle cx="960.22" cy="2028.57" r="3.5"/><circle cx="962.21" cy="2005.45" r="3.5"/><circle cx="964.61" cy="2018.61" r="3.5"/><circle cx="976.96" cy="2029.17" r="3.5"/><circle cx="977.56" cy="2018.01" r="3.5"/><circle cx="981.54" cy="1979.95" r="3.5"/><circle cx="984.53" cy="2030.56" r="3.5"/><circle cx="988.12" cy="2017.21" r="3.5"/><circle cx="990.71" cy="2042.72" r="3.5"/><circle cx="1000.47" cy="2028.97" r="3.5"/><circle cx="1002.07" cy="2027.17" r="3.5"/><circle cx="1006.65" cy="1971.38" r="3.5"/><circle cx="1009.84" cy="1988.52" r="3.5"/><circle cx="1023.78" cy="2042.91" r="3.5"/><circle cx="1029.96" cy="1998.08" r="3.5"/><circle cx="1030.76" cy="2039.33" r="3.5"/><circle cx="1036.34" cy="2026.77" r="3.5"/><line x1="860.99" y1="2040.12" x2="1065.43" y2="2009.24" stroke="#b9b9b9" stroke-width="2"/></g>
<g><text x="153.70" y="2232.11" font-size="12.31" text-anchor="middle">ROI 5: lvlPFC</text><text x="46.41" y="2242.08" font-size="10.78" text-anchor="end">2</text><line x1="51.50" y1="2237.30" x2="54.55" y2="2237.30" stroke="#181818" stroke-width="1.6"/><text x="46.41" y="2270.67" font-size="10.78" text-anchor="end">1.5</text><line x1="51.50" y1="2265.89" x2="54.55" y2="2265.89" stroke="#181818" stroke-width="1.6"/><text x="46.41" y="2299.25" font-size="10.78" text-anchor="end">1</text><line x1="51.50" y1="2294.48" x2="54.55" y2="2294.48" stroke="#181818" stroke-width="1.6"/><text x="46.41" y="2327.84" font-size="10.78" text-anchor="end">0.5</text><line x1="51.50" y1="2323.06" x2="54.55" y2="2323.06" stroke="#181818" stroke-width="1.6"/><text x="46.41" y="2356.43" font-size="10.78" text-anchor="end">0</text><line x1="51.50" y1="2351.65" x2="54.55" y2="2351.65" stroke="#181818" stroke-width="1.6"/><text x="46.41" y="2385.02" font-size="10.78" text-anchor="end">-0.5</text><line x1="51.50" y1="2380.24" x2="54.55" y2="2380.24" stroke="#181818" stroke-width="1.6"/><text x="46.41" y="2413.60" font-size="10.78" text-anchor="end">-1</text><line x1="51.50" y1="2408.83" x2="54.55" y2="2408.83" stroke="#181818" stroke-width="1.6"/><text x="46.41" y="2442.19" font-size="10.78" text-anchor="end">-1.5</text><line x1="51.50" y1="2437.41" x2="54.55" y2="2437.41" stroke="#181818" stroke-width="1.6"/><text x="46.41" y="2470.78" font-size="10.78" text-anchor="end">-2</text><line x1="51.50" y1="2466.00" x2="54.55" y2="2466.00" stroke="#181818" stroke-width="1.6"/><text x="51.50" y="2482.78" font-size="10.78" text-anchor="middle">10</text><line x1="51.50" y1="2466.00" x2="51.50" y2="2462.95" stroke="#181818" stroke-width="1.6"/><text x="102.60" y="2482.78" font-size="10.78" text-anchor="middle">15</text><line x1="102.60" y1="2466.00" x2="102.60" y2="2462.95" stroke="#181818" stroke-width="1.6"/><text x="153.70" y="2482.78" font-size="10.78" text-anchor="middle">20</text><line x1="153.70" y1="2466.00" x2="153.70" y2="2462.95" stroke="#181818" stroke-width="1.6"/><text x="204.80" y="2482.78" font-size="10.78" text-anchor="middle">25</text><line x1="204.80" y1="2466.00" x2="204.80" y2="2462.95" stroke="#181818" stroke-width="1.6"/><text x="255.90" y="2482.78" font-size="10.78" text-anchor="middle">30</text><line x1="255.90" y1="2466.00" x2="255.90" y2="2462.95" stroke="#181818" stroke-width="1.6"/><path d="M51.50 2237.30V2466.00H255.90" fill="none" stroke="#181818" stroke-width="1.83" stroke-linejoin="miter" stroke-linecap="square"/><text x="153.70" y="2499.26" font-size="12.66" text-anchor="middle">RSQ Score</text><text transform="translate(20.28 2352.45) rotate(-90)" x="0" y="0" font-size="12.66" text-anchor="middle">Brain Activation</text><text x="72.96" y="2253.67" font-size="11.19" font-weight="bold">r = 0.04</text><circle cx="72.52" cy="2340.99" r="3.5"/><circle cx="76.90" cy="2381.04" r="3.5"/><circle cx="81.29" cy="2344.98" r="3.5"/><circle cx="91.25" cy="2268.66" r="3.5"/><circle cx="109.18" cy="2328.64" r="3.5"/><circle cx="110.18" cy="2342.19" r="3.5"/><circle cx="111.77" cy="2353.74" r="3.5"/><circle cx="114.36" cy="2342.19" r="3.5"/><circle cx="118.95" cy="2359.92" r="3.5"/><circle cx="121.74" cy="2344.78" r="3.5"/><circle cx="129.71" cy="2351.55" r="3.5"/><circle cx="130.70" cy="2350.16" r="3.5"/><circle cx="131.10" cy="2354.54" r="3.5"/><circle cx="131.90" cy="2464.73" r="3.5"/><circle cx="138.27" cy="2359.52" r="3.5"/><circle cx="140.07" cy="2357.13" r="3.5"/><circle cx="143.26" cy="2392.40" r="3.5"/><circle cx="147.24" cy="2339.00" r="3.5"/><circle cx="150.63" cy="2340.59" r="3.5"/><circle cx="153.02" cy="2344.78" r="3.5"/><circle cx="155.01" cy="2366.50" r="3.5"/><circle cx="167.96" cy="2340.59" r="3.5"/><circle cx="168.56" cy="2335.01" r="3.5"/><circle cx="172.35" cy="2395.39" r="3.5"/><circle cx="174.94" cy="2342.19" r="3.5"/><circle cx="178.52" cy="2344.78" r="3.5"/><circle cx="181.51" cy="2314.69" r="3.5"/><circle cx="191.08" cy="2331.83" r="3.5"/><circle cx="192.67" cy="2347.97" r="3.5"/><circle cx="197.45" cy="2347.97" r="3.5"/><circle cx="200.04" cy="2349.56" r="3.5"/><circle cx="214.19" cy="2339.00" r="3.5"/><circle cx="220.57" cy="2341.79" r="3.5"/><circle cx="220.96" cy="2344.78" r="3.5"/><circle cx="226.74" cy="2345.18" r="3.5"/><line x1="52.99" y1="2352.35" x2="255.83" y2="2346.97" stroke="#b9b9b9" stroke-width="2"/></g>
<g><text x="423.25" y="2232.11" font-size="12.31" text-anchor="middle">ROI 6: rvlPFC</text><text x="315.81" y="2242.08" font-size="10.78" text-anchor="end">2</text><line x1="320.90" y1="2237.30" x2="323.95" y2="2237.30" stroke="#181818" stroke-width="1.6"/><text x="315.81" y="2270.67" font-size="10.78" text-anchor="end">1.5</text><line x1="320.90" y1="2265.89" x2="323.95" y2="2265.89" stroke="#181818" stroke-width="1.6"/><text x="315.81" y="2299.25" font-size="10.78" text-anchor="end">1</text><line x1="320.90" y1="2294.48" x2="323.95" y2="2294.48" stroke="#181818" stroke-width="1.6"/><text x="315.81" y="2327.84" font-size="10.78" text-anchor="end">0.5</text><line x1="320.90" y1="2323.06" x2="323.95" y2="2323.06" stroke="#181818" stroke-width="1.6"/><text x="315.81" y="2356.43" font-size="10.78" text-anchor="end">0</text><line x1="320.90" y1="2351.65" x2="323.95" y2="2351.65" stroke="#181818" stroke-width="1.6"/><text x="315.81" y="2385.02" font-size="10.78" text-anchor="end">-0.5</text><line x1="320.90" y1="2380.24" x2="323.95" y2="2380.24" stroke="#181818" stroke-width="1.6"/><text x="315.81" y="2413.60" font-size="10.78" text-anchor="end">-1</text><line x1="320.90" y1="2408.83" x2="323.95" y2="2408.83" stroke="#181818" stroke-width="1.6"/><text x="315.81" y="2442.19" font-size="10.78" text-anchor="end">-1.5</text><line x1="320.90" y1="2437.41" x2="323.95" y2="2437.41" stroke="#181818" stroke-width="1.6"/><text x="315.81" y="2470.78" font-size="10.78" text-anchor="end">-2</text><line x1="320.90" y1="2466.00" x2="323.95" y2="2466.00" stroke="#181818" stroke-width="1.6"/><text x="320.90" y="2482.78" font-size="10.78" text-anchor="middle">10</text><line x1="320.90" y1="2466.00" x2="320.90" y2="2462.95" stroke="#181818" stroke-width="1.6"/><text x="372.07" y="2482.78" font-size="10.78" text-anchor="middle">15</text><line x1="372.07" y1="2466.00" x2="372.07" y2="2462.95" stroke="#181818" stroke-width="1.6"/><text x="423.25" y="2482.78" font-size="10.78" text-anchor="middle">20</text><line x1="423.25" y1="2466.00" x2="423.25" y2="2462.95" stroke="#181818" stroke-width="1.6"/><text x="474.42" y="2482.78" font-size="10.78" text-anchor="middle">25</text><line x1="474.42" y1="2466.00" x2="474.42" y2="2462.95" stroke="#181818" stroke-width="1.6"/><text x="525.60" y="2482.78" font-size="10.78" text-anchor="middle">30</text><line x1="525.60" y1="2466.00" x2="525.60" y2="2462.95" stroke="#181818" stroke-width="1.6"/><path d="M320.90 2237.30V2466.00H525.60" fill="none" stroke="#181818" stroke-width="1.83" stroke-linejoin="miter" stroke-linecap="square"/><text x="423.25" y="2499.26" font-size="12.66" text-anchor="middle">RSQ Score</text><text transform="translate(289.68 2352.45) rotate(-90)" x="0" y="0" font-size="12.66" text-anchor="middle">Brain Activation</text><text x="342.39" y="2253.67" font-size="11.19" font-weight="bold">r = 0.09</text><circle cx="341.92" cy="2314.89" r="3.5"/><circle cx="346.10" cy="2381.24" r="3.5"/><circle cx="350.88" cy="2348.17" r="3.5"/><circle cx="360.45" cy="2257.50" r="3.5"/><circle cx="378.38" cy="2338.20" r="3.5"/><circle cx="379.98" cy="2336.01" r="3.5"/><circle cx="381.17" cy="2346.57" r="3.5"/><circle cx="383.76" cy="2357.93" r="3.5"/><circle cx="388.34" cy="2403.96" r="3.5"/><circle cx="391.33" cy="2340.79" r="3.5"/><circle cx="398.71" cy="2354.94" r="3.5"/><circle cx="400.30" cy="2350.96" r="3.5"/><circle cx="400.30" cy="2353.94" r="3.5"/><circle cx="401.50" cy="2423.88" r="3.5"/><circle cx="407.67" cy="2356.93" r="3.5"/><circle cx="409.66" cy="2291.18" r="3.5"/><circle cx="412.85" cy="2370.88" r="3.5"/><circle cx="417.04" cy="2328.64" r="3.5"/><circle cx="420.62" cy="2329.64" r="3.5"/><circle cx="422.62" cy="2353.55" r="3.5"/><circle cx="424.81" cy="2397.38" r="3.5"/><circle cx="437.56" cy="2327.04" r="3.5"/><circle cx="437.96" cy="2309.31" r="3.5"/><circle cx="441.94" cy="2390.81" r="3.5"/><circle cx="444.93" cy="2382.24" r="3.5"/><circle cx="448.32" cy="2330.83" r="3.5"/><circle cx="450.91" cy="2325.65" r="3.5"/><circle cx="460.67" cy="2351.75" r="3.5"/><circle cx="462.47" cy="2362.91" r="3.5"/><circle cx="467.05" cy="2336.21" r="3.5"/><circle cx="470.04" cy="2340.20" r="3.5"/><circle cx="483.99" cy="2319.27" r="3.5"/><circle cx="490.36" cy="2333.62" r="3.5"/><circle cx="490.76" cy="2278.43" r="3.5"/><circle cx="496.74" cy="2354.74" r="3.5"/><line x1="321.99" y1="2352.15" x2="525.63" y2="2337.21" stroke="#b9b9b9" stroke-width="2"/></g>
<g><text x="693.10" y="2232.11" font-size="12.31" text-anchor="middle">ROI 7: lDLPFC</text><text x="585.51" y="2242.08" font-size="10.78" text-anchor="end">2</text><line x1="590.60" y1="2237.30" x2="593.65" y2="2237.30" stroke="#181818" stroke-width="1.6"/><text x="585.51" y="2270.67" font-size="10.78" text-anchor="end">1.5</text><line x1="590.60" y1="2265.89" x2="593.65" y2="2265.89" stroke="#181818" stroke-width="1.6"/><text x="585.51" y="2299.25" font-size="10.78" text-anchor="end">1</text><line x1="590.60" y1="2294.48" x2="593.65" y2="2294.48" stroke="#181818" stroke-width="1.6"/><text x="585.51" y="2327.84" font-size="10.78" text-anchor="end">0.5</text><line x1="590.60" y1="2323.06" x2="593.65" y2="2323.06" stroke="#181818" stroke-width="1.6"/><text x="585.51" y="2356.43" font-size="10.78" text-anchor="end">0</text><line x1="590.60" y1="2351.65" x2="593.65" y2="2351.65" stroke="#181818" stroke-width="1.6"/><text x="585.51" y="2385.02" font-size="10.78" text-anchor="end">-0.5</text><line x1="590.60" y1="2380.24" x2="593.65" y2="2380.24" stroke="#181818" stroke-width="1.6"/><text x="585.51" y="2413.60" font-size="10.78" text-anchor="end">-1</text><line x1="590.60" y1="2408.83" x2="593.65" y2="2408.83" stroke="#181818" stroke-width="1.6"/><text x="585.51" y="2442.19" font-size="10.78" text-anchor="end">-1.5</text><line x1="590.60" y1="2437.41" x2="593.65" y2="2437.41" stroke="#181818" stroke-width="1.6"/><text x="585.51" y="2470.78" font-size="10.78" text-anchor="end">-2</text><line x1="590.60" y1="2466.00" x2="593.65" y2="2466.00" stroke="#181818" stroke-width="1.6"/><text x="590.60" y="2482.78" font-size="10.78" text-anchor="middle">10</text><line x1="590.60" y1="2466.00" x2="590.60" y2="2462.95" stroke="#181818" stroke-width="1.6"/><text x="641.85" y="2482.78" font-size="10.78" text-anchor="middle">15</text><line x1="641.85" y1="2466.00" x2="641.85" y2="2462.95" stroke="#181818" stroke-width="1.6"/><text x="693.10" y="2482.78" font-size="10.78" text-anchor="middle">20</text><line x1="693.10" y1="2466.00" x2="693.10" y2="2462.95" stroke="#181818" stroke-width="1.6"/><text x="744.35" y="2482.78" font-size="10.78" text-anchor="middle">25</text><line x1="744.35" y1="2466.00" x2="744.35" y2="2462.95" stroke="#181818" stroke-width="1.6"/><text x="795.60" y="2482.78" font-size="10.78" text-anchor="middle">30</text><line x1="795.60" y1="2466.00" x2="795.60" y2="2462.95" stroke="#181818" stroke-width="1.6"/><path d="M590.60 2237.30V2466.00H795.60" fill="none" stroke="#181818" stroke-width="1.83" stroke-linejoin="miter" stroke-linecap="square"/><text x="693.10" y="2499.26" font-size="12.66" text-anchor="middle">RSQ Score</text><text transform="translate(559.38 2352.45) rotate(-90)" x="0" y="0" font-size="12.66" text-anchor="middle">Brain Activation</text><text x="612.12" y="2253.67" font-size="11.19" font-weight="bold">r = 0.02</text><circle cx="611.52" cy="2350.76" r="3.5"/><circle cx="616.10" cy="2371.68" r="3.5"/><circle cx="620.69" cy="2341.99" r="3.5"/><circle cx="630.45" cy="2263.48" r="3.5"/><circle cx="648.38" cy="2353.15" r="3.5"/><circle cx="649.78" cy="2340.59" r="3.5"/><circle cx="651.37" cy="2345.18" r="3.5"/><circle cx="653.76" cy="2346.57" r="3.5"/><circle cx="658.34" cy="2354.14" r="3.5"/><circle cx="661.33" cy="2352.75" r="3.5"/><circle cx="668.71" cy="2356.93" r="3.5"/><circle cx="670.10" cy="2346.17" r="3.5"/><circle cx="670.10" cy="2369.69" r="3.5"/><circle cx="671.30" cy="2400.97" r="3.5"/><circle cx="677.67" cy="2354.94" r="3.5"/><circle cx="679.66" cy="2357.13" r="3.5"/><circle cx="682.85" cy="2349.36" r="3.5"/><circle cx="687.04" cy="2331.63" r="3.5"/><circle cx="690.62" cy="2334.22" r="3.5"/><circle cx="692.62" cy="2343.58" r="3.5"/><circle cx="694.81" cy="2348.56" r="3.5"/><circle cx="707.56" cy="2351.15" r="3.5"/><circle cx="707.56" cy="2352.75" r="3.5"/><circle cx="711.94" cy="2319.07" r="3.5"/><circle cx="714.73" cy="2364.90" r="3.5"/><circle cx="718.32" cy="2339.40" r="3.5"/><circle cx="720.91" cy="2349.36" r="3.5"/><circle cx="730.67" cy="2339.80" r="3.5"/><circle cx="732.47" cy="2363.71" r="3.5"/><circle cx="737.05" cy="2327.64" r="3.5"/><circle cx="740.04" cy="2342.99" r="3.5"/><circle cx="753.99" cy="2348.56" r="3.5"/><circle cx="760.36" cy="2336.21" r="3.5"/><circle cx="760.76" cy="2353.55" r="3.5"/><circle cx="766.74" cy="2339.40" r="3.5"/><line x1="591.99" y1="2347.77" x2="795.63" y2="2345.97" stroke="#b9b9b9" stroke-width="2"/></g>
<g><text x="962.90" y="2232.11" font-size="12.31" text-anchor="middle">ROI 8: rDLPFC</text><text x="855.12" y="2242.08" font-size="10.78" text-anchor="end">2</text><line x1="860.20" y1="2237.30" x2="863.25" y2="2237.30" stroke="#181818" stroke-width="1.6"/><text x="855.12" y="2270.67" font-size="10.78" text-anchor="end">1.5</text><line x1="860.20" y1="2265.89" x2="863.25" y2="2265.89" stroke="#181818" stroke-width="1.6"/><text x="855.12" y="2299.25" font-size="10.78" text-anchor="end">1</text><line x1="860.20" y1="2294.48" x2="863.25" y2="2294.48" stroke="#181818" stroke-width="1.6"/><text x="855.12" y="2327.84" font-size="10.78" text-anchor="end">0.5</text><line x1="860.20" y1="2323.06" x2="863.25" y2="2323.06" stroke="#181818" stroke-width="1.6"/><text x="855.12" y="2356.43" font-size="10.78" text-anchor="end">0</text><line x1="860.20" y1="2351.65" x2="863.25" y2="2351.65" stroke="#181818" stroke-width="1.6"/><text x="855.12" y="2385.02" font-size="10.78" text-anchor="end">-0.5</text><line x1="860.20" y1="2380.24" x2="863.25" y2="2380.24" stroke="#181818" stroke-width="1.6"/><text x="855.12" y="2413.60" font-size="10.78" text-anchor="end">-1</text><line x1="860.20" y1="2408.83" x2="863.25" y2="2408.83" stroke="#181818" stroke-width="1.6"/><text x="855.12" y="2442.19" font-size="10.78" text-anchor="end">-1.5</text><line x1="860.20" y1="2437.41" x2="863.25" y2="2437.41" stroke="#181818" stroke-width="1.6"/><text x="855.12" y="2470.78" font-size="10.78" text-anchor="end">-2</text><line x1="860.20" y1="2466.00" x2="863.25" y2="2466.00" stroke="#181818" stroke-width="1.6"/><text x="860.20" y="2482.78" font-size="10.78" text-anchor="middle">10</text><line x1="860.20" y1="2466.00" x2="860.20" y2="2462.95" stroke="#181818" stroke-width="1.6"/><text x="911.55" y="2482.78" font-size="10.78" text-anchor="middle">15</text><line x1="911.55" y1="2466.00" x2="911.55" y2="2462.95" stroke="#181818" stroke-width="1.6"/><text x="962.90" y="2482.78" font-size="10.78" text-anchor="middle">20</text><line x1="962.90" y1="2466.00" x2="962.90" y2="2462.95" stroke="#181818" stroke-width="1.6"/><text x="1014.25" y="2482.78" font-size="10.78" text-anchor="middle">25</text><line x1="1014.25" y1="2466.00" x2="1014.25" y2="2462.95" stroke="#181818" stroke-width="1.6"/><text x="1065.60" y="2482.78" font-size="10.78" text-anchor="middle">30</text><line x1="1065.60" y1="2466.00" x2="1065.60" y2="2462.95" stroke="#181818" stroke-width="1.6"/><path d="M860.20 2237.30V2466.00H1065.60" fill="none" stroke="#181818" stroke-width="1.83" stroke-linejoin="miter" stroke-linecap="square"/><text x="962.90" y="2499.26" font-size="12.66" text-anchor="middle">RSQ Score</text><text transform="translate(828.98 2352.45) rotate(-90)" x="0" y="0" font-size="12.66" text-anchor="middle">Brain Activation</text><text x="881.77" y="2253.67" font-size="11.19" font-weight="bold">r = 0.20</text><circle cx="881.52" cy="2343.58" r="3.5"/><circle cx="886.10" cy="2367.49" r="3.5"/><circle cx="890.68" cy="2348.56" r="3.5"/><circle cx="900.25" cy="2299.15" r="3.5"/><circle cx="918.38" cy="2341.59" r="3.5"/><circle cx="919.77" cy="2332.03" r="3.5"/><circle cx="920.77" cy="2360.52" r="3.5"/><circle cx="923.76" cy="2350.96" r="3.5"/><circle cx="928.34" cy="2340.99" r="3.5"/><circle cx="931.13" cy="2347.57" r="3.5"/><circle cx="938.30" cy="2361.91" r="3.5"/><circle cx="940.10" cy="2350.96" r="3.5"/><circle cx="940.10" cy="2359.52" r="3.5"/><circle cx="941.09" cy="2366.50" r="3.5"/><circle cx="947.67" cy="2353.15" r="3.5"/><circle cx="949.26" cy="2330.83" r="3.5"/><circle cx="952.65" cy="2396.39" r="3.5"/><circle cx="956.64" cy="2332.23" r="3.5"/><circle cx="960.22" cy="2347.17" r="3.5"/><circle cx="962.21" cy="2353.94" r="3.5"/><circle cx="964.61" cy="2358.53" r="3.5"/><circle cx="976.96" cy="2349.56" r="3.5"/><circle cx="977.56" cy="2345.58" r="3.5"/><circle cx="981.54" cy="2352.95" r="3.5"/><circle cx="984.53" cy="2361.12" r="3.5"/><circle cx="988.12" cy="2341.59" r="3.5"/><circle cx="990.71" cy="2348.17" r="3.5"/><circle cx="1000.47" cy="2348.96" r="3.5"/><circle cx="1002.07" cy="2345.58" r="3.5"/><circle cx="1006.65" cy="2335.21" r="3.5"/><circle cx="1009.84" cy="2339.60" r="3.5"/><circle cx="1023.78" cy="2321.47" r="3.5"/><circle cx="1029.96" cy="2333.82" r="3.5"/><circle cx="1030.76" cy="2321.07" r="3.5"/><circle cx="1036.34" cy="2341.19" r="3.5"/><line x1="860.99" y1="2353.94" x2="1065.43" y2="2338.60" stroke="#b9b9b9" stroke-width="2"/></g>
</svg>
</body></html>
